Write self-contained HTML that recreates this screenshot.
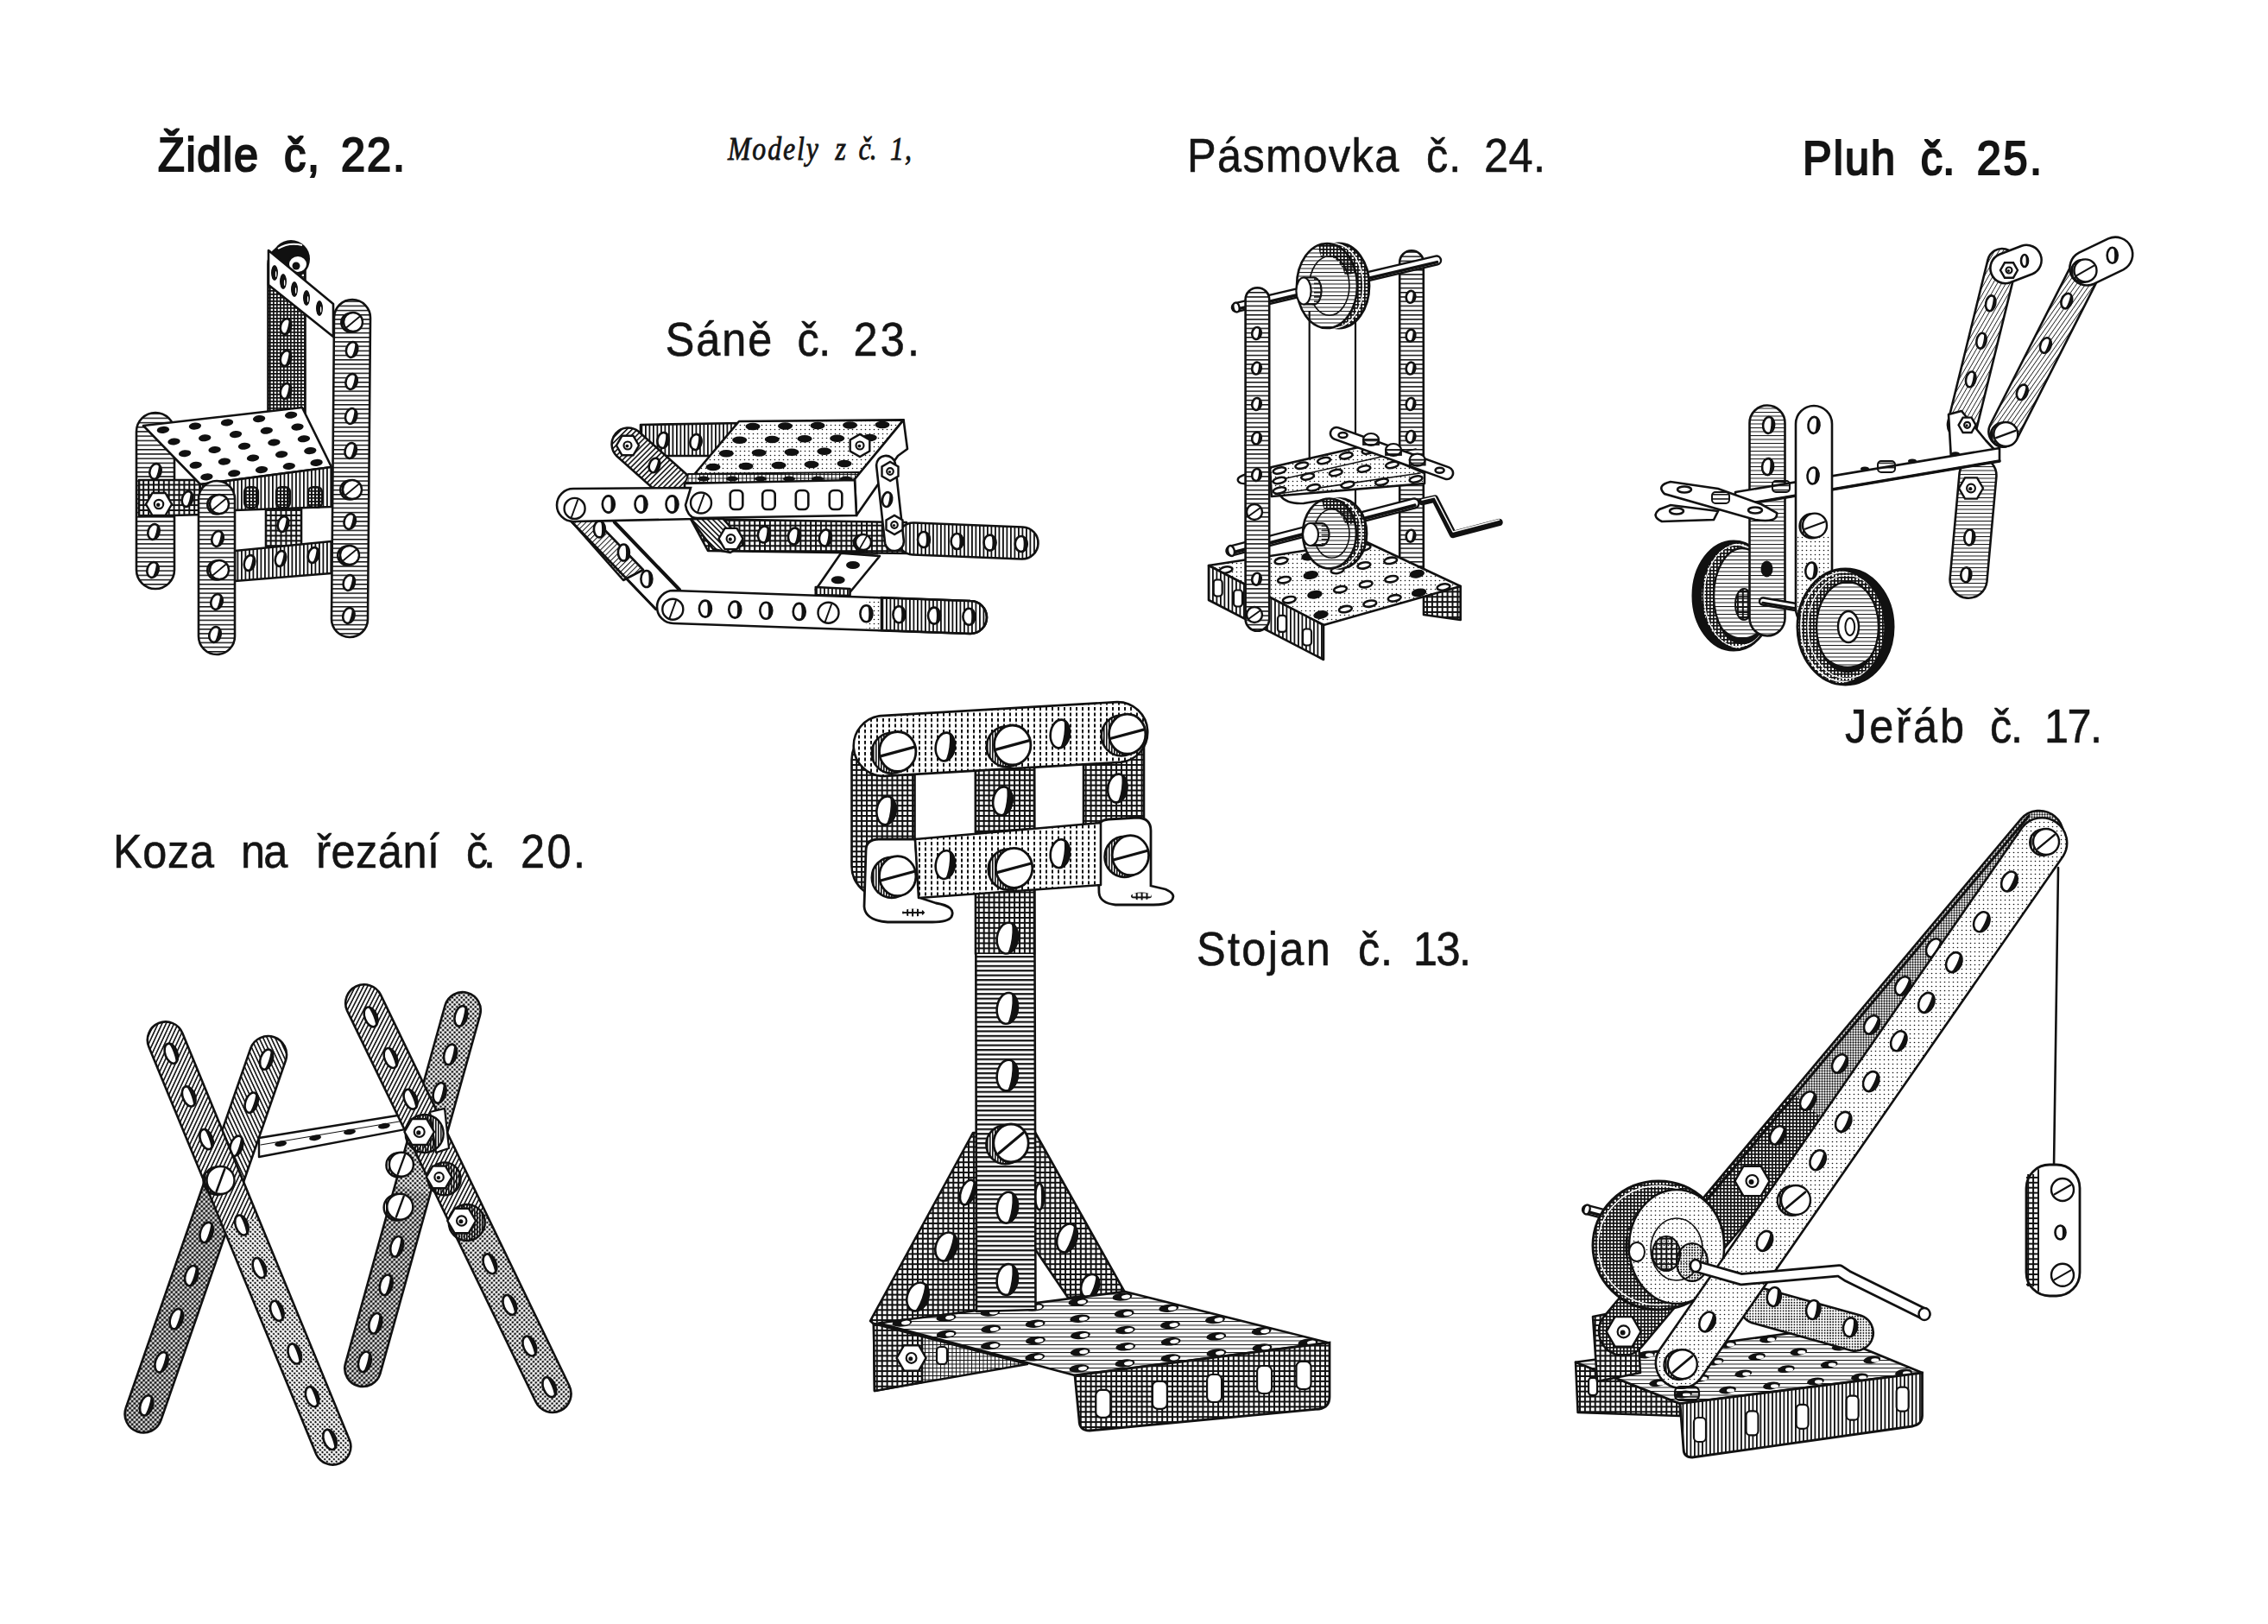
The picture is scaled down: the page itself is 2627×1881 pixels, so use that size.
<!DOCTYPE html><html><head><meta charset="utf-8"><style>html,body{margin:0;padding:0;background:#fff;overflow:hidden}svg{display:block}</style></head><body><svg xmlns="http://www.w3.org/2000/svg" width="2627" height="1881" viewBox="0 0 2627 1881"><defs>
<pattern id="H" width="8" height="5.2" patternUnits="userSpaceOnUse"><rect width="8" height="1.5" fill="#111"/></pattern>
<pattern id="HM" width="8" height="5.4" patternUnits="userSpaceOnUse"><rect width="8" height="2.2" fill="#111"/></pattern>
<pattern id="H2" width="8" height="4" patternUnits="userSpaceOnUse"><rect width="8" height="1.8" fill="#111"/></pattern>
<pattern id="HL" width="8" height="4.5" patternUnits="userSpaceOnUse"><rect width="8" height="1.0" fill="#111"/></pattern>
<pattern id="V" width="4.5" height="8" patternUnits="userSpaceOnUse"><rect width="1.8" height="8" fill="#111"/></pattern>
<pattern id="V2" width="3" height="8" patternUnits="userSpaceOnUse"><rect width="1.6" height="8" fill="#111"/></pattern>
<pattern id="VL" width="4.5" height="8" patternUnits="userSpaceOnUse"><rect width="1.1" height="8" fill="#111"/></pattern>
<pattern id="VD" width="7" height="6.5" patternUnits="userSpaceOnUse"><rect width="2" height="4" fill="#111"/></pattern>
<pattern id="X" width="5.9" height="5.9" patternUnits="userSpaceOnUse"><rect width="5.9" height="2" fill="#111"/><rect width="2" height="5.9" fill="#111"/></pattern>
<pattern id="XD" width="4" height="4" patternUnits="userSpaceOnUse"><rect width="4" height="1.7" fill="#111"/><rect width="1.7" height="4" fill="#111"/></pattern>
<pattern id="XL" width="4.5" height="4.5" patternUnits="userSpaceOnUse"><rect width="4.5" height="1.0" fill="#111"/><rect width="1.0" height="4.5" fill="#111"/></pattern>
<pattern id="D" width="3.2" height="3.2" patternUnits="userSpaceOnUse"><circle cx="1.6" cy="1.6" r="0.95" fill="#111"/></pattern>
<pattern id="DD" width="3" height="3" patternUnits="userSpaceOnUse"><circle cx="1.5" cy="1.5" r="1.15" fill="#111"/></pattern>
<pattern id="DL" width="5" height="5" patternUnits="userSpaceOnUse"><circle cx="2.5" cy="2.5" r="0.8" fill="#111"/></pattern>
<pattern id="G" width="4.3" height="4.3" patternUnits="userSpaceOnUse" patternTransform="rotate(45)"><rect width="4.3" height="1.6" fill="#111"/></pattern>
<pattern id="G2" width="4.3" height="4.3" patternUnits="userSpaceOnUse" patternTransform="rotate(-45)"><rect width="4.3" height="1.6" fill="#111"/></pattern>
<pattern id="GL" width="4.3" height="4.3" patternUnits="userSpaceOnUse" patternTransform="rotate(45)"><rect width="4.3" height="1.0" fill="#111"/></pattern>
<pattern id="GL2" width="4.3" height="4.3" patternUnits="userSpaceOnUse" patternTransform="rotate(-45)"><rect width="4.3" height="1.0" fill="#111"/></pattern>
<pattern id="p1" width="8" height="4.3" patternUnits="userSpaceOnUse" patternTransform="rotate(-60)"><rect width="8" height="0.8" fill="#111"/></pattern><pattern id="p2" width="8" height="4.3" patternUnits="userSpaceOnUse" patternTransform="rotate(-55)"><rect width="8" height="0.8" fill="#111"/></pattern><clipPath id="cr1"><ellipse cx="2008" cy="690" rx="47" ry="63"/></clipPath><clipPath id="cr2"><ellipse cx="2137.5" cy="726" rx="55.5" ry="67"/></clipPath><pattern id="p3" width="8" height="4.2" patternUnits="userSpaceOnUse" patternTransform="rotate(65)"><rect width="8" height="1.6" fill="#111"/></pattern><pattern id="p4" width="3.8" height="3.8" patternUnits="userSpaceOnUse" patternTransform="rotate(45)"><circle cx="1.9" cy="1.9" r="1.6" fill="#111"/></pattern><clipPath id="c3"><path d="M290.4,1213.9 L145.8,1630.8 A21.5,21.5 0 0 0 186.5,1644.9 L331,1228 A21.5,21.5 0 0 0 290.4,1213.9 Z"/></clipPath><pattern id="p5" width="8" height="4.2" patternUnits="userSpaceOnUse" patternTransform="rotate(115)"><rect width="8" height="1.6" fill="#111"/></pattern><pattern id="p6" width="3.8" height="3.8" patternUnits="userSpaceOnUse" patternTransform="rotate(45)"><circle cx="1.9" cy="1.9" r="1.3" fill="#111"/></pattern><clipPath id="c4"><path d="M172.4,1212.5 L366.4,1684.6 A21,21 0 0 0 405.2,1668.7 L211.3,1196.5 A21,21 0 0 0 172.4,1212.5 Z"/></clipPath><pattern id="p7" width="3.8" height="3.8" patternUnits="userSpaceOnUse" patternTransform="rotate(45)"><circle cx="1.9" cy="1.9" r="1.45" fill="#111"/></pattern><pattern id="p8" width="3.8" height="3.8" patternUnits="userSpaceOnUse" patternTransform="rotate(45)"><circle cx="1.9" cy="1.9" r="1.55" fill="#111"/></pattern><clipPath id="c5"><path d="M515.5,1164.5 L399.8,1580.3 A21,21 0 0 0 440.2,1591.6 L556,1175.8 A21,21 0 0 0 515.5,1164.5 Z"/></clipPath><pattern id="p9" width="8" height="4.2" patternUnits="userSpaceOnUse" patternTransform="rotate(117)"><rect width="8" height="1.6" fill="#111"/></pattern><pattern id="p10" width="3.8" height="3.8" patternUnits="userSpaceOnUse" patternTransform="rotate(45)"><circle cx="1.9" cy="1.9" r="1.35" fill="#111"/></pattern><clipPath id="c6"><path d="M402.1,1170.6 L620.6,1623.7 A21.5,21.5 0 0 0 659.4,1605 L440.8,1151.9 A21.5,21.5 0 0 0 402.1,1170.6 Z"/></clipPath><clipPath id="c7"><path d="M2340.5,949 L1858.5,1524 A28,28 0 0 0 1901.5,1560 L2383.5,985 A28,28 0 0 0 2340.5,949 Z"/></clipPath></defs><rect width="100%" height="100%" fill="#fff"/><path d="M310.5,306 L310.5,480 A21.5,21.5 0 0 0 353.5,480 L353.5,306 A21.5,21.5 0 0 0 310.5,306 Z" fill="#fff"/>
<path d="M310.5,306 L310.5,480 A21.5,21.5 0 0 0 353.5,480 L353.5,306 A21.5,21.5 0 0 0 310.5,306 Z" fill="url(#XD)" stroke="#111" stroke-width="2.6" stroke-linejoin="round"/>
<circle cx="337" cy="300" r="22" fill="#111"/>
<ellipse cx="345" cy="306" rx="11" ry="10" fill="#fff" stroke="#111" stroke-width="2"/>
<circle cx="343" cy="308" r="4.5" fill="#111"/>
<path d="M322,288 Q335,280 350,284" stroke="#fff" stroke-width="2" fill="none"/>
<ellipse cx="331" cy="378" rx="6" ry="9" fill="#fff" stroke="#111" stroke-width="2.6" transform="rotate(15 331 378)"/>
<path d="M331.6,369 A6,9 0 0 1 331.6,387 A1.9,9 0 0 0 331.6,369 Z" fill="#111" transform="rotate(15 331 378)"/>
<ellipse cx="331" cy="415" rx="6" ry="9" fill="#fff" stroke="#111" stroke-width="2.6" transform="rotate(15 331 415)"/>
<path d="M331.6,406 A6,9 0 0 1 331.6,424 A1.9,9 0 0 0 331.6,406 Z" fill="#111" transform="rotate(15 331 415)"/>
<ellipse cx="331" cy="453" rx="6" ry="9" fill="#fff" stroke="#111" stroke-width="2.6" transform="rotate(15 331 453)"/>
<path d="M331.6,444 A6,9 0 0 1 331.6,462 A1.9,9 0 0 0 331.6,444 Z" fill="#111" transform="rotate(15 331 453)"/>
<path d="M311,290 L386,352 L386,390 L311,330 Z" fill="#fff" stroke="#111" stroke-width="2.6" stroke-linejoin="round"/>
<ellipse cx="318" cy="316" rx="4" ry="9" fill="#111"/>
<ellipse cx="319.6" cy="317.5" rx="0.7" ry="3.5" fill="#fff"/>
<ellipse cx="328" cy="326" rx="4" ry="9" fill="#111"/>
<ellipse cx="329.6" cy="327.5" rx="0.7" ry="3.5" fill="#fff"/>
<ellipse cx="341" cy="335" rx="4" ry="9" fill="#111"/>
<ellipse cx="342.6" cy="336.5" rx="0.7" ry="3.5" fill="#fff"/>
<ellipse cx="355" cy="345" rx="4" ry="9" fill="#111"/>
<ellipse cx="356.6" cy="346.5" rx="0.7" ry="3.5" fill="#fff"/>
<ellipse cx="370" cy="357" rx="4" ry="9" fill="#111"/>
<ellipse cx="371.6" cy="358.5" rx="0.7" ry="3.5" fill="#fff"/>
<path d="M158,500 L158,660 A22,22 0 0 0 202,660 L202,500 A22,22 0 0 0 158,500 Z" fill="#fff"/>
<path d="M158,500 L158,660 A22,22 0 0 0 202,660 L202,500 A22,22 0 0 0 158,500 Z" fill="url(#H)" stroke="#111" stroke-width="2.6" stroke-linejoin="round"/>
<ellipse cx="180" cy="546" rx="6.5" ry="9" fill="#fff" stroke="#111" stroke-width="2.6" transform="rotate(15 180 546)"/>
<path d="M180.7,537 A6.5,9 0 0 1 180.7,555 A2.1,9 0 0 0 180.7,537 Z" fill="#111" transform="rotate(15 180 546)"/>
<ellipse cx="178" cy="616" rx="6.5" ry="9" fill="#fff" stroke="#111" stroke-width="2.6" transform="rotate(15 178 616)"/>
<path d="M178.7,607 A6.5,9 0 0 1 178.7,625 A2.1,9 0 0 0 178.7,607 Z" fill="#111" transform="rotate(15 178 616)"/>
<ellipse cx="177" cy="660" rx="6.5" ry="9" fill="#fff" stroke="#111" stroke-width="2.6" transform="rotate(15 177 660)"/>
<path d="M177.7,651 A6.5,9 0 0 1 177.7,669 A2.1,9 0 0 0 177.7,651 Z" fill="#111" transform="rotate(15 177 660)"/>
<path d="M161,556 L238,556 L238,596 L161,598 Z" fill="#fff"/>
<path d="M161,556 L238,556 L238,596 L161,598 Z" fill="url(#X)" stroke="#111" stroke-width="2.6" stroke-linejoin="round"/>
<ellipse cx="217" cy="578" rx="6" ry="9" fill="#fff" stroke="#111" stroke-width="2.6" transform="rotate(15 217 578)"/>
<path d="M217.6,569 A6,9 0 0 1 217.6,587 A1.9,9 0 0 0 217.6,569 Z" fill="#111" transform="rotate(15 217 578)"/>
<polygon points="199,584 191.5,597 176.5,597 169,584 176.5,571 191.5,571" fill="#fff" stroke="#111" stroke-width="2.4"/>
<circle cx="184" cy="584" r="5.2" fill="#fff" stroke="#111" stroke-width="2.16"/>
<circle cx="183.2" cy="584.8" r="2.2" fill="#111"/>
<path d="M166,493 L350,472 L384,541 L232,561 Z" fill="#fff" stroke="#111" stroke-width="2.6" stroke-linejoin="round"/>
<ellipse cx="188.9" cy="497.9" rx="7.2" ry="4" fill="#111" transform="rotate(-6 188.9 497.9)"/>
<ellipse cx="201.5" cy="511.5" rx="7.2" ry="4" fill="#111" transform="rotate(-6 201.5 511.5)"/>
<ellipse cx="214.1" cy="525.2" rx="7.2" ry="4" fill="#111" transform="rotate(-6 214.1 525.2)"/>
<ellipse cx="226.7" cy="538.8" rx="7.2" ry="4" fill="#111" transform="rotate(-6 226.7 538.8)"/>
<ellipse cx="239.4" cy="552.4" rx="7.2" ry="4" fill="#111" transform="rotate(-6 239.4 552.4)"/>
<ellipse cx="225.9" cy="493.6" rx="7.2" ry="4" fill="#111" transform="rotate(-6 225.9 493.6)"/>
<ellipse cx="237.2" cy="507.3" rx="7.2" ry="4" fill="#111" transform="rotate(-6 237.2 507.3)"/>
<ellipse cx="248.6" cy="521.0" rx="7.2" ry="4" fill="#111" transform="rotate(-6 248.6 521.0)"/>
<ellipse cx="259.9" cy="534.6" rx="7.2" ry="4" fill="#111" transform="rotate(-6 259.9 534.6)"/>
<ellipse cx="271.2" cy="548.3" rx="7.2" ry="4" fill="#111" transform="rotate(-6 271.2 548.3)"/>
<ellipse cx="263.0" cy="489.4" rx="7.2" ry="4" fill="#111" transform="rotate(-6 263.0 489.4)"/>
<ellipse cx="273.0" cy="503.1" rx="7.2" ry="4" fill="#111" transform="rotate(-6 273.0 503.1)"/>
<ellipse cx="283.0" cy="516.8" rx="7.2" ry="4" fill="#111" transform="rotate(-6 283.0 516.8)"/>
<ellipse cx="293.0" cy="530.5" rx="7.2" ry="4" fill="#111" transform="rotate(-6 293.0 530.5)"/>
<ellipse cx="303.0" cy="544.1" rx="7.2" ry="4" fill="#111" transform="rotate(-6 303.0 544.1)"/>
<ellipse cx="300.1" cy="485.1" rx="7.2" ry="4" fill="#111" transform="rotate(-6 300.1 485.1)"/>
<ellipse cx="308.8" cy="498.8" rx="7.2" ry="4" fill="#111" transform="rotate(-6 308.8 498.8)"/>
<ellipse cx="317.4" cy="512.5" rx="7.2" ry="4" fill="#111" transform="rotate(-6 317.4 512.5)"/>
<ellipse cx="326.1" cy="526.3" rx="7.2" ry="4" fill="#111" transform="rotate(-6 326.1 526.3)"/>
<ellipse cx="334.8" cy="540.0" rx="7.2" ry="4" fill="#111" transform="rotate(-6 334.8 540.0)"/>
<ellipse cx="337.1" cy="480.8" rx="7.2" ry="4" fill="#111" transform="rotate(-6 337.1 480.8)"/>
<ellipse cx="344.5" cy="494.6" rx="7.2" ry="4" fill="#111" transform="rotate(-6 344.5 494.6)"/>
<ellipse cx="351.9" cy="508.3" rx="7.2" ry="4" fill="#111" transform="rotate(-6 351.9 508.3)"/>
<ellipse cx="359.3" cy="522.1" rx="7.2" ry="4" fill="#111" transform="rotate(-6 359.3 522.1)"/>
<ellipse cx="366.6" cy="535.9" rx="7.2" ry="4" fill="#111" transform="rotate(-6 366.6 535.9)"/>
<path d="M232,561 L384,541 L384,587 L272,591 L232,592 Z" fill="#fff"/>
<path d="M232,561 L384,541 L384,587 L272,591 L232,592 Z" fill="url(#V)" stroke="#111" stroke-width="2.6" stroke-linejoin="round"/>
<rect x="283" y="564" width="16" height="24" rx="5.6" fill="url(#XD)" stroke="#111" stroke-width="2.2"/>
<rect x="320" y="564" width="16" height="24" rx="5.6" fill="url(#XD)" stroke="#111" stroke-width="2.2"/>
<rect x="357" y="564" width="16" height="24" rx="5.6" fill="url(#XD)" stroke="#111" stroke-width="2.2"/>
<path d="M308,590 L349,589 L349,632 L308,633 Z" fill="#fff"/>
<path d="M308,590 L349,589 L349,632 L308,633 Z" fill="url(#X)" stroke="#111" stroke-width="2.6" stroke-linejoin="round"/>
<ellipse cx="328" cy="607" rx="6" ry="9" fill="#fff" stroke="#111" stroke-width="2.6" transform="rotate(15 328 607)"/>
<path d="M328.6,598 A6,9 0 0 1 328.6,616 A1.9,9 0 0 0 328.6,598 Z" fill="#111" transform="rotate(15 328 607)"/>
<path d="M272,638 L384,627 L384,664 L272,673 Z" fill="#fff"/>
<path d="M272,638 L384,627 L384,664 L272,673 Z" fill="url(#V)" stroke="#111" stroke-width="2.6" stroke-linejoin="round"/>
<ellipse cx="289" cy="652" rx="6" ry="9" fill="#fff" stroke="#111" stroke-width="2.6" transform="rotate(15 289 652)"/>
<path d="M289.6,643 A6,9 0 0 1 289.6,661 A1.9,9 0 0 0 289.6,643 Z" fill="#111" transform="rotate(15 289 652)"/>
<ellipse cx="325" cy="647" rx="6" ry="9" fill="#fff" stroke="#111" stroke-width="2.6" transform="rotate(15 325 647)"/>
<path d="M325.6,638 A6,9 0 0 1 325.6,656 A1.9,9 0 0 0 325.6,638 Z" fill="#111" transform="rotate(15 325 647)"/>
<ellipse cx="363" cy="643" rx="6" ry="9" fill="#fff" stroke="#111" stroke-width="2.6" transform="rotate(15 363 643)"/>
<path d="M363.6,634 A6,9 0 0 1 363.6,652 A1.9,9 0 0 0 363.6,634 Z" fill="#111" transform="rotate(15 363 643)"/>
<path d="M230,578 L230,737 A21,21 0 0 0 272,737 L272,578 A21,21 0 0 0 230,578 Z" fill="#fff"/>
<path d="M230,578 L230,737 A21,21 0 0 0 272,737 L272,578 A21,21 0 0 0 230,578 Z" fill="url(#H)" stroke="#111" stroke-width="2.6" stroke-linejoin="round"/>
<circle cx="251.2" cy="584.5" r="11" fill="url(#V2)" stroke="#111" stroke-width="2.4"/>
<circle cx="254" cy="584" r="11" fill="#fff" stroke="#111" stroke-width="2.4"/>
<line x1="246.8" y1="590" x2="261.2" y2="578" stroke="#111" stroke-width="1.8" stroke-linecap="round"/>
<circle cx="251.2" cy="660.5" r="11" fill="url(#V2)" stroke="#111" stroke-width="2.4"/>
<circle cx="254" cy="660" r="11" fill="#fff" stroke="#111" stroke-width="2.4"/>
<line x1="246.8" y1="666" x2="261.2" y2="654" stroke="#111" stroke-width="1.8" stroke-linecap="round"/>
<ellipse cx="252" cy="624" rx="6.5" ry="9" fill="#fff" stroke="#111" stroke-width="2.6" transform="rotate(15 252 624)"/>
<path d="M252.7,615 A6.5,9 0 0 1 252.7,633 A2.1,9 0 0 0 252.7,615 Z" fill="#111" transform="rotate(15 252 624)"/>
<ellipse cx="251" cy="697" rx="6.5" ry="9" fill="#fff" stroke="#111" stroke-width="2.6" transform="rotate(15 251 697)"/>
<path d="M251.7,688 A6.5,9 0 0 1 251.7,706 A2.1,9 0 0 0 251.7,688 Z" fill="#111" transform="rotate(15 251 697)"/>
<ellipse cx="249" cy="735" rx="6.5" ry="9" fill="#fff" stroke="#111" stroke-width="2.6" transform="rotate(15 249 735)"/>
<path d="M249.7,726 A6.5,9 0 0 1 249.7,744 A2.1,9 0 0 0 249.7,726 Z" fill="#111" transform="rotate(15 249 735)"/>
<path d="M387,367.8 L384,716.8 A21,21 0 0 0 426,717.2 L429,368.2 A21,21 0 0 0 387,367.8 Z" fill="#fff"/>
<path d="M387,367.8 L384,716.8 A21,21 0 0 0 426,717.2 L429,368.2 A21,21 0 0 0 387,367.8 Z" fill="url(#H)" stroke="#111" stroke-width="2.6" stroke-linejoin="round"/>
<circle cx="406.2" cy="373.6" r="11" fill="url(#V2)" stroke="#111" stroke-width="2.4"/>
<circle cx="409" cy="373" r="11" fill="#fff" stroke="#111" stroke-width="2.4"/>
<line x1="401.8" y1="379" x2="416.2" y2="367" stroke="#111" stroke-width="1.8" stroke-linecap="round"/>
<circle cx="405.2" cy="567.5" r="11" fill="url(#V2)" stroke="#111" stroke-width="2.4"/>
<circle cx="408" cy="567" r="11" fill="#fff" stroke="#111" stroke-width="2.4"/>
<line x1="400.8" y1="573" x2="415.2" y2="561" stroke="#111" stroke-width="1.8" stroke-linecap="round"/>
<circle cx="402.2" cy="643.5" r="11" fill="url(#V2)" stroke="#111" stroke-width="2.4"/>
<circle cx="405" cy="643" r="11" fill="#fff" stroke="#111" stroke-width="2.4"/>
<line x1="397.8" y1="649" x2="412.2" y2="637" stroke="#111" stroke-width="1.8" stroke-linecap="round"/>
<ellipse cx="407.6" cy="405" rx="6.5" ry="9" fill="#fff" stroke="#111" stroke-width="2.6" transform="rotate(15 407.6 405)"/>
<path d="M408.2,396 A6.5,9 0 0 1 408.2,414 A2.1,9 0 0 0 408.2,396 Z" fill="#111" transform="rotate(15 407.6 405)"/>
<ellipse cx="407.1" cy="442" rx="6.5" ry="9" fill="#fff" stroke="#111" stroke-width="2.6" transform="rotate(15 407.1 442)"/>
<path d="M407.8,433 A6.5,9 0 0 1 407.8,451 A2.1,9 0 0 0 407.8,433 Z" fill="#111" transform="rotate(15 407.1 442)"/>
<ellipse cx="406.7" cy="482" rx="6.5" ry="9" fill="#fff" stroke="#111" stroke-width="2.6" transform="rotate(15 406.7 482)"/>
<path d="M407.3,473 A6.5,9 0 0 1 407.3,491 A2.1,9 0 0 0 407.3,473 Z" fill="#111" transform="rotate(15 406.7 482)"/>
<ellipse cx="406.2" cy="522" rx="6.5" ry="9" fill="#fff" stroke="#111" stroke-width="2.6" transform="rotate(15 406.2 522)"/>
<path d="M406.8,513 A6.5,9 0 0 1 406.8,531 A2.1,9 0 0 0 406.8,513 Z" fill="#111" transform="rotate(15 406.2 522)"/>
<ellipse cx="405.2" cy="604" rx="6.5" ry="9" fill="#fff" stroke="#111" stroke-width="2.6" transform="rotate(15 405.2 604)"/>
<path d="M405.8,595 A6.5,9 0 0 1 405.8,613 A2.1,9 0 0 0 405.8,595 Z" fill="#111" transform="rotate(15 405.2 604)"/>
<ellipse cx="404.3" cy="675" rx="6.5" ry="9" fill="#fff" stroke="#111" stroke-width="2.6" transform="rotate(15 404.3 675)"/>
<path d="M405,666 A6.5,9 0 0 1 405,684 A2.1,9 0 0 0 405,666 Z" fill="#111" transform="rotate(15 404.3 675)"/>
<ellipse cx="403.9" cy="713" rx="6.5" ry="9" fill="#fff" stroke="#111" stroke-width="2.6" transform="rotate(15 403.9 713)"/>
<path d="M404.5,704 A6.5,9 0 0 1 404.5,722 A2.1,9 0 0 0 404.5,704 Z" fill="#111" transform="rotate(15 403.9 713)"/>
<path d="M742,492 L860,490 L830,528 L742,528 Z" fill="#fff"/>
<path d="M742,492 L860,490 L830,528 L742,528 Z" fill="url(#V)" stroke="#111" stroke-width="2.6" stroke-linejoin="round"/>
<ellipse cx="768" cy="510" rx="6.5" ry="9" fill="#fff" stroke="#111" stroke-width="2.6" transform="rotate(10 768 510)"/>
<path d="M768.6,501 A6.5,9 0 0 1 768.6,519 A2.1,9 0 0 0 768.6,501 Z" fill="#111" transform="rotate(10 768 510)"/>
<ellipse cx="806" cy="512" rx="6.5" ry="9" fill="#fff" stroke="#111" stroke-width="2.6" transform="rotate(10 806 512)"/>
<path d="M806.6,503 A6.5,9 0 0 1 806.6,521 A2.1,9 0 0 0 806.6,503 Z" fill="#111" transform="rotate(10 806 512)"/>
<path d="M714.4,528.2 L779.4,586.2 A19,19 0 0 0 804.6,557.8 L739.6,499.8 A19,19 0 0 0 714.4,528.2 Z" fill="#fff"/>
<path d="M714.4,528.2 L779.4,586.2 A19,19 0 0 0 804.6,557.8 L739.6,499.8 A19,19 0 0 0 714.4,528.2 Z" fill="url(#G2)" stroke="#111" stroke-width="2.6" stroke-linejoin="round"/>
<polygon points="740,516 733.5,527.3 720.5,527.3 714,516 720.5,504.7 733.5,504.7" fill="#fff" stroke="#111" stroke-width="2.4"/>
<circle cx="727" cy="516" r="4.5" fill="#fff" stroke="#111" stroke-width="2.16"/>
<circle cx="726.4" cy="516.6" r="1.9" fill="#111"/>
<ellipse cx="758" cy="539" rx="6" ry="8.5" fill="#fff" stroke="#111" stroke-width="2.6" transform="rotate(20 758 539)"/>
<path d="M758.6,530.5 A6,8.5 0 0 1 758.6,547.5 A1.9,8.5 0 0 0 758.6,530.5 Z" fill="#111" transform="rotate(20 758 539)"/>
<path d="M800,601 L1050,605 L1050,641 L820,638 Z" fill="#fff"/>
<path d="M800,601 L1050,605 L1050,641 L820,638 Z" fill="url(#X)" stroke="#111" stroke-width="2.6" stroke-linejoin="round"/>
<path d="M1057.3,642.5 L1183.3,647.5 A18.5,18.5 0 0 0 1184.7,610.5 L1058.7,605.5 A18.5,18.5 0 0 0 1057.3,642.5 Z" fill="#fff"/>
<path d="M1057.3,642.5 L1183.3,647.5 A18.5,18.5 0 0 0 1184.7,610.5 L1058.7,605.5 A18.5,18.5 0 0 0 1057.3,642.5 Z" fill="url(#V)" stroke="#111" stroke-width="2.6" stroke-linejoin="round"/>
<ellipse cx="1070" cy="625" rx="7" ry="9" fill="#fff" stroke="#111" stroke-width="2.6"/>
<path d="M1070.7,616 A7,9 0 0 1 1070.7,634 A2.2,9 0 0 0 1070.7,616 Z" fill="#111"/>
<ellipse cx="1108.6" cy="627" rx="7" ry="9" fill="#fff" stroke="#111" stroke-width="2.6"/>
<path d="M1109.3,618 A7,9 0 0 1 1109.3,636 A2.2,9 0 0 0 1109.3,618 Z" fill="#111"/>
<ellipse cx="1146.6" cy="628.6" rx="7" ry="9" fill="#fff" stroke="#111" stroke-width="2.6"/>
<path d="M1147.3,619.6 A7,9 0 0 1 1147.3,637.6 A2.2,9 0 0 0 1147.3,619.6 Z" fill="#111"/>
<ellipse cx="1182.8" cy="630" rx="7" ry="9" fill="#fff" stroke="#111" stroke-width="2.6"/>
<path d="M1183.5,621 A7,9 0 0 1 1183.5,639 A2.2,9 0 0 0 1183.5,621 Z" fill="#111"/>
<path d="M800,601 L838,601 L862,630 L846,640 L826,636 Z" fill="#fff"/>
<path d="M800,601 L838,601 L862,630 L846,640 L826,636 Z" fill="url(#G)" stroke="#111" stroke-width="2.6" stroke-linejoin="round"/>
<polygon points="860.5,624 853.5,636.1 839.5,636.1 832.5,624 839.5,611.9 853.5,611.9" fill="#fff" stroke="#111" stroke-width="2.4"/>
<circle cx="846.5" cy="624" r="4.9" fill="#fff" stroke="#111" stroke-width="2.16"/>
<circle cx="845.8" cy="624.7" r="2.1" fill="#111"/>
<ellipse cx="885" cy="619" rx="7" ry="9.5" fill="#fff" stroke="#111" stroke-width="2.6" transform="rotate(10 885 619)"/>
<path d="M885.7,609.5 A7,9.5 0 0 1 885.7,628.5 A2.2,9.5 0 0 0 885.7,609.5 Z" fill="#111" transform="rotate(10 885 619)"/>
<ellipse cx="920" cy="621" rx="7" ry="9.5" fill="#fff" stroke="#111" stroke-width="2.6" transform="rotate(10 920 621)"/>
<path d="M920.7,611.5 A7,9.5 0 0 1 920.7,630.5 A2.2,9.5 0 0 0 920.7,611.5 Z" fill="#111" transform="rotate(10 920 621)"/>
<ellipse cx="956" cy="623" rx="7" ry="9.5" fill="#fff" stroke="#111" stroke-width="2.6" transform="rotate(10 956 623)"/>
<path d="M956.7,613.5 A7,9.5 0 0 1 956.7,632.5 A2.2,9.5 0 0 0 956.7,613.5 Z" fill="#111" transform="rotate(10 956 623)"/>
<path d="M661,603 L710,603 L787,683 L760,706 Z" fill="#fff" stroke="#111" stroke-width="2.6" stroke-linejoin="round"/>
<path d="M661,603 L690,603 L745,660 L722,672 Z" fill="#fff"/>
<path d="M661,603 L690,603 L745,660 L722,672 Z" fill="url(#GL2)" stroke="#111" stroke-width="2.6" stroke-linejoin="round"/>
<path d="M661,603 L760,706" stroke="#111" stroke-width="2.6"/>
<line x1="712" y1="605" x2="787" y2="683" stroke="#111" stroke-width="4" stroke-linecap="round"/>
<ellipse cx="694.4" cy="612.9" rx="6.5" ry="9.5" fill="#fff" stroke="#111" stroke-width="2.6"/>
<path d="M695,603.4 A6.5,9.5 0 0 1 695,622.4 A2.1,9.5 0 0 0 695,603.4 Z" fill="#111"/>
<ellipse cx="722.4" cy="640" rx="6.5" ry="9.5" fill="#fff" stroke="#111" stroke-width="2.6"/>
<path d="M723,630.5 A6.5,9.5 0 0 1 723,649.5 A2.1,9.5 0 0 0 723,630.5 Z" fill="#111"/>
<ellipse cx="748.9" cy="670.5" rx="6.5" ry="9.5" fill="#fff" stroke="#111" stroke-width="2.6"/>
<path d="M749.5,661 A6.5,9.5 0 0 1 749.5,680 A2.1,9.5 0 0 0 749.5,661 Z" fill="#111"/>
<path d="M856,488 L1046.6,486.4 L990,555 L797,558 Z" fill="#fff"/>
<path d="M856,488 L1046.6,486.4 L990,555 L797,558 Z" fill="url(#DL)" stroke="#111" stroke-width="2.6" stroke-linejoin="round"/>
<ellipse cx="872" cy="494" rx="8.5" ry="4.2" fill="#111"/>
<ellipse cx="909.5" cy="493.5" rx="8.5" ry="4.2" fill="#111"/>
<ellipse cx="947" cy="493" rx="8.5" ry="4.2" fill="#111"/>
<ellipse cx="984.5" cy="492.5" rx="8.5" ry="4.2" fill="#111"/>
<ellipse cx="1022" cy="492" rx="8.5" ry="4.2" fill="#111"/>
<ellipse cx="856.7" cy="509.7" rx="8.5" ry="4.2" fill="#111"/>
<ellipse cx="894.3" cy="509" rx="8.5" ry="4.2" fill="#111"/>
<ellipse cx="932" cy="508.3" rx="8.5" ry="4.2" fill="#111"/>
<ellipse cx="969.7" cy="507.7" rx="8.5" ry="4.2" fill="#111"/>
<ellipse cx="1007.3" cy="507" rx="8.5" ry="4.2" fill="#111"/>
<ellipse cx="841.3" cy="525.3" rx="8.5" ry="4.2" fill="#111"/>
<ellipse cx="879.2" cy="524.5" rx="8.5" ry="4.2" fill="#111"/>
<ellipse cx="917" cy="523.7" rx="8.5" ry="4.2" fill="#111"/>
<ellipse cx="954.8" cy="522.8" rx="8.5" ry="4.2" fill="#111"/>
<ellipse cx="992.7" cy="522" rx="8.5" ry="4.2" fill="#111"/>
<ellipse cx="826" cy="541" rx="8.5" ry="4.2" fill="#111"/>
<ellipse cx="864" cy="540" rx="8.5" ry="4.2" fill="#111"/>
<ellipse cx="902" cy="539" rx="8.5" ry="4.2" fill="#111"/>
<ellipse cx="940" cy="538" rx="8.5" ry="4.2" fill="#111"/>
<ellipse cx="978" cy="537" rx="8.5" ry="4.2" fill="#111"/>
<path d="M797,549 L995,547 L990,560 L793,562 Z" fill="#fff"/>
<path d="M797,549 L995,547 L990,560 L793,562 Z" fill="url(#XL)" stroke="#111" stroke-width="1.8" stroke-linejoin="round"/>
<ellipse cx="815" cy="554.5" rx="7" ry="3" fill="#111"/>
<ellipse cx="848" cy="554.5" rx="7" ry="3" fill="#111"/>
<ellipse cx="881" cy="554.5" rx="7" ry="3" fill="#111"/>
<ellipse cx="914" cy="554.5" rx="7" ry="3" fill="#111"/>
<ellipse cx="947" cy="554.5" rx="7" ry="3" fill="#111"/>
<ellipse cx="980" cy="554.5" rx="7" ry="3" fill="#111"/>
<path d="M990,555 L1046.6,486.4 L1051,520 L1040,528 L992,597 Z" fill="#fff" stroke="#111" stroke-width="2.6" stroke-linejoin="round"/>
<polygon points="1007.3,522.5 996,529 984.7,522.5 984.7,509.5 996,503 1007.3,509.5" fill="#fff" stroke="#111" stroke-width="2.4"/>
<circle cx="996" cy="516" r="4.5" fill="#fff" stroke="#111" stroke-width="2.16"/>
<circle cx="995.4" cy="516.6" r="1.9" fill="#111"/>
<path d="M793,560 L990,556 L992,597 L808,600 Q794,600 793,585 Z" fill="#fff" stroke="#111" stroke-width="2.6"/>
<circle cx="812" cy="582.5" r="12" fill="#fff" stroke="#111" stroke-width="2.4"/>
<line x1="808.5" y1="592.1" x2="815.5" y2="572.9" stroke="#111" stroke-width="1.92" stroke-linecap="round"/>
<rect x="845.8" y="568" width="14.5" height="22" rx="5.1" fill="#fff" stroke="#111" stroke-width="2.6"/>
<rect x="883.2" y="568" width="14.5" height="22" rx="5.1" fill="#fff" stroke="#111" stroke-width="2.6"/>
<rect x="921.8" y="568" width="14.5" height="22" rx="5.1" fill="#fff" stroke="#111" stroke-width="2.6"/>
<rect x="960.8" y="568" width="14.5" height="22" rx="5.1" fill="#fff" stroke="#111" stroke-width="2.6"/>
<path d="M800,565 L664,566 A19,19 0 0 0 664,604 L806,601 Q796,598 794,585 Z" fill="#fff" stroke="#111" stroke-width="2.6"/>
<circle cx="665.6" cy="588.9" r="12" fill="#fff" stroke="#111" stroke-width="2.4"/>
<line x1="662.1" y1="598.5" x2="669.1" y2="579.3" stroke="#111" stroke-width="1.92" stroke-linecap="round"/>
<ellipse cx="704.8" cy="584" rx="7" ry="9.6" fill="#fff" stroke="#111" stroke-width="2.6"/>
<path d="M705.5,574.4 A7,9.6 0 0 1 705.5,593.6 A2.2,9.6 0 0 0 705.5,574.4 Z" fill="#111"/>
<ellipse cx="742.5" cy="584" rx="7" ry="9.6" fill="#fff" stroke="#111" stroke-width="2.6"/>
<path d="M743.2,574.4 A7,9.6 0 0 1 743.2,593.6 A2.2,9.6 0 0 0 743.2,574.4 Z" fill="#111"/>
<ellipse cx="778.5" cy="584" rx="7" ry="9.6" fill="#fff" stroke="#111" stroke-width="2.6"/>
<path d="M779.2,574.4 A7,9.6 0 0 1 779.2,593.6 A2.2,9.6 0 0 0 779.2,574.4 Z" fill="#111"/>
<path d="M1015.1,539.2 L1025.1,629.2 A11,11 0 0 0 1046.9,626.8 L1036.9,536.8 A11,11 0 0 0 1015.1,539.2 Z" fill="#fff" stroke="#111" stroke-width="2.6" stroke-linejoin="round"/>
<polygon points="1031,557 1021.5,551.5 1021.5,540.5 1031,535 1040.5,540.5 1040.5,551.5" fill="#fff" stroke="#111" stroke-width="2.4"/>
<circle cx="1031" cy="546" r="3.8" fill="#fff" stroke="#111" stroke-width="2.16"/>
<circle cx="1030.5" cy="546.5" r="1.6" fill="#111"/>
<polygon points="1036,619 1026.5,613.5 1026.5,602.5 1036,597 1045.5,602.5 1045.5,613.5" fill="#fff" stroke="#111" stroke-width="2.4"/>
<circle cx="1036" cy="608" r="3.8" fill="#fff" stroke="#111" stroke-width="2.16"/>
<circle cx="1035.5" cy="608.5" r="1.6" fill="#111"/>
<ellipse cx="1027.6" cy="578.6" rx="5.5" ry="8.5" fill="#fff" stroke="#111" stroke-width="2.6" transform="rotate(10 1027.6 578.6)"/>
<path d="M1028.1,570.1 A5.5,8.5 0 0 1 1028.1,587.1 A1.8,8.5 0 0 0 1028.1,570.1 Z" fill="#111" transform="rotate(10 1027.6 578.6)"/>
<path d="M974,640.7 L1019,644 L984.5,686 L944.8,683 Z" fill="#fff" stroke="#111" stroke-width="2.6" stroke-linejoin="round"/>
<ellipse cx="988" cy="654.5" rx="8" ry="4.5" fill="#111"/>
<ellipse cx="970.7" cy="671.7" rx="8" ry="4.5" fill="#111"/>
<path d="M944.8,680 L984.5,682 L984.5,690 L944.8,689 Z" fill="#fff"/>
<path d="M944.8,680 L984.5,682 L984.5,690 L944.8,689 Z" fill="url(#V)" stroke="#111" stroke-width="2.6" stroke-linejoin="round"/>
<circle cx="997.8" cy="628.5" r="9" fill="url(#V2)" stroke="#111" stroke-width="2.4"/>
<circle cx="1000" cy="628" r="9" fill="#fff" stroke="#111" stroke-width="2.4"/>
<line x1="996.2" y1="634.6" x2="1003.8" y2="621.4" stroke="#111" stroke-width="1.8" stroke-linecap="round"/>
<path d="M780,684 L1124,696 A19,19 0 0 1 1124,734 L780,722 A19,19 0 0 1 780,684 Z" fill="#fff" stroke="#111" stroke-width="2.6"/>
<path d="M1021,692 L1124,696 A19,19 0 0 1 1124,734 L1021,730 Z" fill="url(#V)" stroke="#111" stroke-width="2.6"/>
<path d="M1003,691 L1021,692 L1021,730 L1003,729 Z" fill="url(#DL)"/>
<circle cx="779.3" cy="705.7" r="12" fill="#fff" stroke="#111" stroke-width="2.4"/>
<line x1="775.8" y1="715.3" x2="782.8" y2="696.1" stroke="#111" stroke-width="1.92" stroke-linecap="round"/>
<circle cx="959.5" cy="709.7" r="12" fill="#fff" stroke="#111" stroke-width="2.4"/>
<line x1="956" y1="719.3" x2="963" y2="700.1" stroke="#111" stroke-width="1.92" stroke-linecap="round"/>
<ellipse cx="816.9" cy="705.1" rx="7" ry="9.5" fill="#fff" stroke="#111" stroke-width="2.6"/>
<path d="M817.6,695.6 A7,9.5 0 0 1 817.6,714.6 A2.2,9.5 0 0 0 817.6,695.6 Z" fill="#111"/>
<ellipse cx="851.3" cy="706.1" rx="7" ry="9.5" fill="#fff" stroke="#111" stroke-width="2.6"/>
<path d="M852,696.6 A7,9.5 0 0 1 852,715.6 A2.2,9.5 0 0 0 852,696.6 Z" fill="#111"/>
<ellipse cx="887.3" cy="707.2" rx="7" ry="9.5" fill="#fff" stroke="#111" stroke-width="2.6"/>
<path d="M888,697.7 A7,9.5 0 0 1 888,716.7 A2.2,9.5 0 0 0 888,697.7 Z" fill="#111"/>
<ellipse cx="925.7" cy="708.4" rx="7" ry="9.5" fill="#fff" stroke="#111" stroke-width="2.6"/>
<path d="M926.4,698.9 A7,9.5 0 0 1 926.4,717.9 A2.2,9.5 0 0 0 926.4,698.9 Z" fill="#111"/>
<ellipse cx="1003.4" cy="710.7" rx="7" ry="9.5" fill="#fff" stroke="#111" stroke-width="2.6"/>
<path d="M1004.1,701.2 A7,9.5 0 0 1 1004.1,720.2 A2.2,9.5 0 0 0 1004.1,701.2 Z" fill="#111"/>
<ellipse cx="1041.4" cy="711.8" rx="7" ry="9.5" fill="#fff" stroke="#111" stroke-width="2.6"/>
<path d="M1042.1,702.3 A7,9.5 0 0 1 1042.1,721.3 A2.2,9.5 0 0 0 1042.1,702.3 Z" fill="#111"/>
<ellipse cx="1082" cy="713.1" rx="7" ry="9.5" fill="#fff" stroke="#111" stroke-width="2.6"/>
<path d="M1082.7,703.6 A7,9.5 0 0 1 1082.7,722.6 A2.2,9.5 0 0 0 1082.7,703.6 Z" fill="#111"/>
<ellipse cx="1122.4" cy="714.3" rx="7" ry="9.5" fill="#fff" stroke="#111" stroke-width="2.6"/>
<path d="M1123.1,704.8 A7,9.5 0 0 1 1123.1,723.8 A2.2,9.5 0 0 0 1123.1,704.8 Z" fill="#111"/>
<path d="M1621.2,304 L1621.2,660 A13.8,13.8 0 0 0 1648.8,660 L1648.8,304 A13.8,13.8 0 0 0 1621.2,304 Z" fill="#fff"/>
<path d="M1621.2,304 L1621.2,660 A13.8,13.8 0 0 0 1648.8,660 L1648.8,304 A13.8,13.8 0 0 0 1621.2,304 Z" fill="url(#H)" stroke="#111" stroke-width="2.6" stroke-linejoin="round"/>
<ellipse cx="1634" cy="343.8" rx="5.2" ry="7" fill="#fff" stroke="#111" stroke-width="2.6" transform="rotate(10 1634 343.8)"/>
<path d="M1634.5,336.8 A5.2,7 0 0 1 1634.5,350.8 A1.7,7 0 0 0 1634.5,336.8 Z" fill="#111" transform="rotate(10 1634 343.8)"/>
<ellipse cx="1634" cy="388.6" rx="5.2" ry="7" fill="#fff" stroke="#111" stroke-width="2.6" transform="rotate(10 1634 388.6)"/>
<path d="M1634.5,381.6 A5.2,7 0 0 1 1634.5,395.6 A1.7,7 0 0 0 1634.5,381.6 Z" fill="#111" transform="rotate(10 1634 388.6)"/>
<ellipse cx="1634" cy="426.6" rx="5.2" ry="7" fill="#fff" stroke="#111" stroke-width="2.6" transform="rotate(10 1634 426.6)"/>
<path d="M1634.5,419.6 A5.2,7 0 0 1 1634.5,433.6 A1.7,7 0 0 0 1634.5,419.6 Z" fill="#111" transform="rotate(10 1634 426.6)"/>
<ellipse cx="1634" cy="468" rx="5.2" ry="7" fill="#fff" stroke="#111" stroke-width="2.6" transform="rotate(10 1634 468)"/>
<path d="M1634.5,461 A5.2,7 0 0 1 1634.5,475 A1.7,7 0 0 0 1634.5,461 Z" fill="#111" transform="rotate(10 1634 468)"/>
<ellipse cx="1634" cy="505.9" rx="5.2" ry="7" fill="#fff" stroke="#111" stroke-width="2.6" transform="rotate(10 1634 505.9)"/>
<path d="M1634.5,498.9 A5.2,7 0 0 1 1634.5,512.9 A1.7,7 0 0 0 1634.5,498.9 Z" fill="#111" transform="rotate(10 1634 505.9)"/>
<ellipse cx="1634" cy="620.7" rx="5.2" ry="7" fill="#fff" stroke="#111" stroke-width="2.6" transform="rotate(10 1634 620.7)"/>
<path d="M1634.5,613.7 A5.2,7 0 0 1 1634.5,627.7 A1.7,7 0 0 0 1634.5,613.7 Z" fill="#111" transform="rotate(10 1634 620.7)"/>
<line x1="1432" y1="356" x2="1664" y2="301.5" stroke="#111" stroke-width="12.4" stroke-linecap="round"/>
<line x1="1432" y1="356" x2="1664" y2="301.5" stroke="#fff" stroke-width="7.6" stroke-linecap="round"/>
<line x1="1432.5" y1="358.1" x2="1664.5" y2="303.6" stroke="#111" stroke-width="3.5" stroke-linecap="round"/>
<ellipse cx="1432.0" cy="356.0" rx="3.5" ry="5.5" fill="#fff" stroke="#111" stroke-width="2.4" transform="rotate(-13.2 1432.0 356.0)"/>
<ellipse cx="1551.0" cy="331.0" rx="35.0" ry="49.0" fill="#fff" stroke="#111" stroke-width="2.8"/>
<ellipse cx="1551.0" cy="331.0" rx="35.0" ry="49.0" fill="url(#XD)"/>
<rect x="1537.0" y="282.0" width="14.0" height="98.0" fill="url(#XD)"/>
<ellipse cx="1544.0" cy="331.0" rx="35.0" ry="49.0" fill="none" stroke="#fff" stroke-width="1.5"/>
<ellipse cx="1537.0" cy="331.0" rx="35.0" ry="49.0" fill="#fff" stroke="#111" stroke-width="2.6"/>
<ellipse cx="1537.0" cy="331.0" rx="35.0" ry="49.0" fill="url(#HL)"/>
<ellipse cx="1539.8" cy="331.0" rx="23.1" ry="34.3" fill="none" stroke="#111" stroke-width="1.6"/>
<path d="M1526.5,284.4 A35.0,49.0 0 0 1 1570.2,316.3 L1558.0,318.8 A23.1,34.3 0 0 0 1530.0,297.7 Z" fill="url(#XD)"/>
<ellipse cx="1522.0" cy="337.0" rx="8.6" ry="15.5" fill="url(#H)" stroke="#111" stroke-width="2.2"/>
<rect x="1510.0" y="321.5" width="12.0" height="31.0" fill="#fff"/>
<rect x="1510.0" y="321.5" width="12.0" height="31.0" fill="url(#HL)"/>
<line x1="1510" y1="321.5" x2="1522" y2="321.5" stroke="#111" stroke-width="2.2" stroke-linecap="round"/>
<line x1="1510" y1="352.5" x2="1522" y2="352.5" stroke="#111" stroke-width="2.2" stroke-linecap="round"/>
<ellipse cx="1510.0" cy="337.0" rx="8.6" ry="15.5" fill="#fff" stroke="#111" stroke-width="2.2"/>
<line x1="1516.7" y1="361" x2="1516.7" y2="535" stroke="#111" stroke-width="2.2" stroke-linecap="round"/>
<line x1="1570" y1="371" x2="1570" y2="595" stroke="#111" stroke-width="2.2" stroke-linecap="round"/>
<path d="M1445,549 Q1432,552 1434,557 Q1436,561 1445,560 Z" fill="#fff" stroke="#111" stroke-width="2.4"/>
<path d="M1471,541.4 L1578,517 L1650,548 L1650,560 L1472.8,575 Z" fill="#fff"/>
<path d="M1471,541.4 L1578,517 L1650,548 L1650,560 L1472.8,575 Z" fill="url(#DL)" stroke="#111" stroke-width="2.6" stroke-linejoin="round"/>
<line x1="1472" y1="558" x2="1640" y2="520" stroke="#111" stroke-width="1.6" stroke-linecap="round"/>
<line x1="1480" y1="572" x2="1645" y2="548" stroke="#111" stroke-width="1.6" stroke-linecap="round"/>
<ellipse cx="1482" cy="545" rx="7.5" ry="3.4" fill="#fff" stroke="#111" stroke-width="2.6" transform="rotate(-12 1482 545)"/>
<ellipse cx="1507.8" cy="539.2" rx="7.5" ry="3.4" fill="#fff" stroke="#111" stroke-width="2.6" transform="rotate(-12 1507.8 539.2)"/>
<ellipse cx="1533.5" cy="533.5" rx="7.5" ry="3.4" fill="#fff" stroke="#111" stroke-width="2.6" transform="rotate(-12 1533.5 533.5)"/>
<ellipse cx="1559.2" cy="527.8" rx="7.5" ry="3.4" fill="#fff" stroke="#111" stroke-width="2.6" transform="rotate(-12 1559.2 527.8)"/>
<ellipse cx="1585" cy="522" rx="7.5" ry="3.4" fill="#fff" stroke="#111" stroke-width="2.6" transform="rotate(-12 1585 522)"/>
<ellipse cx="1482" cy="556.5" rx="7.5" ry="3.4" fill="#fff" stroke="#111" stroke-width="2.6" transform="rotate(-12 1482 556.5)"/>
<ellipse cx="1514.6" cy="552" rx="7.5" ry="3.4" fill="#fff" stroke="#111" stroke-width="2.6" transform="rotate(-12 1514.6 552)"/>
<ellipse cx="1547.2" cy="547.5" rx="7.5" ry="3.4" fill="#fff" stroke="#111" stroke-width="2.6" transform="rotate(-12 1547.2 547.5)"/>
<ellipse cx="1579.9" cy="543" rx="7.5" ry="3.4" fill="#fff" stroke="#111" stroke-width="2.6" transform="rotate(-12 1579.9 543)"/>
<ellipse cx="1612.5" cy="538.5" rx="7.5" ry="3.4" fill="#fff" stroke="#111" stroke-width="2.6" transform="rotate(-12 1612.5 538.5)"/>
<ellipse cx="1482" cy="568" rx="7.5" ry="3.4" fill="#fff" stroke="#111" stroke-width="2.6" transform="rotate(-12 1482 568)"/>
<ellipse cx="1521.5" cy="564.8" rx="7.5" ry="3.4" fill="#fff" stroke="#111" stroke-width="2.6" transform="rotate(-12 1521.5 564.8)"/>
<ellipse cx="1561" cy="561.5" rx="7.5" ry="3.4" fill="#fff" stroke="#111" stroke-width="2.6" transform="rotate(-12 1561 561.5)"/>
<ellipse cx="1600.5" cy="558.2" rx="7.5" ry="3.4" fill="#fff" stroke="#111" stroke-width="2.6" transform="rotate(-12 1600.5 558.2)"/>
<ellipse cx="1640" cy="555" rx="7.5" ry="3.4" fill="#fff" stroke="#111" stroke-width="2.6" transform="rotate(-12 1640 555)"/>
<path d="M1483,574 Q1490,584 1510,583 L1540,578" fill="none" stroke="#111" stroke-width="2.4"/>
<path d="M1545.6,508.6 L1673.6,554.6 A7,7 0 0 0 1678.4,541.4 L1550.4,495.4 A7,7 0 0 0 1545.6,508.6 Z" fill="#fff" stroke="#111" stroke-width="2.6" stroke-linejoin="round"/>
<ellipse cx="1588" cy="509" rx="9" ry="7" fill="#fff" stroke="#111" stroke-width="2.2"/>
<rect x="1579" y="509" width="18" height="6" fill="url(#H)" stroke="#111" stroke-width="1.8"/>
<ellipse cx="1614" cy="521" rx="9" ry="7" fill="#fff" stroke="#111" stroke-width="2.2"/>
<rect x="1605" y="521" width="18" height="6" fill="url(#H)" stroke="#111" stroke-width="1.8"/>
<ellipse cx="1641.7" cy="532.6" rx="9" ry="7" fill="#fff" stroke="#111" stroke-width="2.2"/>
<rect x="1632.7" y="532.6" width="18" height="6" fill="url(#H)" stroke="#111" stroke-width="1.8"/>
<ellipse cx="1555.5" cy="504" rx="5" ry="3" fill="#fff" stroke="#111" stroke-width="2.6"/>
<ellipse cx="1667.6" cy="544.7" rx="5" ry="3" fill="#fff" stroke="#111" stroke-width="2.6"/>
<path d="M1649,690 L1691.7,679 L1691.7,718 L1649,712 Z" fill="#fff"/>
<path d="M1649,690 L1691.7,679 L1691.7,718 L1649,712 Z" fill="url(#X)" stroke="#111" stroke-width="2.6" stroke-linejoin="round"/>
<path d="M1400,655 L1581,627 L1691.7,679 L1533,724 Z" fill="#fff"/>
<path d="M1400,655 L1581,627 L1691.7,679 L1533,724 Z" fill="url(#DL)" stroke="#111" stroke-width="2.6" stroke-linejoin="round"/>
<ellipse cx="1420" cy="660" rx="7.5" ry="3.5" fill="#fff" stroke="#111" stroke-width="2.6" transform="rotate(-10 1420 660)"/>
<ellipse cx="1452" cy="654.8" rx="7.5" ry="3.5" fill="#fff" stroke="#111" stroke-width="2.6" transform="rotate(-10 1452 654.8)"/>
<ellipse cx="1484" cy="649.6" rx="7.5" ry="3.5" fill="#fff" stroke="#111" stroke-width="2.6" transform="rotate(-10 1484 649.6)"/>
<ellipse cx="1516" cy="644.4" rx="7.5" ry="3.5" fill="#111" stroke="#111" stroke-width="2.6" transform="rotate(-10 1516 644.4)"/>
<ellipse cx="1548" cy="639.2" rx="7.5" ry="3.5" fill="#fff" stroke="#111" stroke-width="2.6" transform="rotate(-10 1548 639.2)"/>
<ellipse cx="1580" cy="634" rx="7.5" ry="3.5" fill="#fff" stroke="#111" stroke-width="2.6" transform="rotate(-10 1580 634)"/>
<ellipse cx="1456.7" cy="677.3" rx="7.5" ry="3.5" fill="#fff" stroke="#111" stroke-width="2.6" transform="rotate(-10 1456.7 677.3)"/>
<ellipse cx="1487.5" cy="671.7" rx="7.5" ry="3.5" fill="#fff" stroke="#111" stroke-width="2.6" transform="rotate(-10 1487.5 671.7)"/>
<ellipse cx="1518.3" cy="666.1" rx="7.5" ry="3.5" fill="#111" stroke="#111" stroke-width="2.6" transform="rotate(-10 1518.3 666.1)"/>
<ellipse cx="1549.1" cy="660.5" rx="7.5" ry="3.5" fill="#fff" stroke="#111" stroke-width="2.6" transform="rotate(-10 1549.1 660.5)"/>
<ellipse cx="1579.9" cy="654.9" rx="7.5" ry="3.5" fill="#fff" stroke="#111" stroke-width="2.6" transform="rotate(-10 1579.9 654.9)"/>
<ellipse cx="1610.7" cy="649.3" rx="7.5" ry="3.5" fill="#fff" stroke="#111" stroke-width="2.6" transform="rotate(-10 1610.7 649.3)"/>
<ellipse cx="1493.3" cy="694.7" rx="7.5" ry="3.5" fill="#fff" stroke="#111" stroke-width="2.6" transform="rotate(-10 1493.3 694.7)"/>
<ellipse cx="1522.9" cy="688.7" rx="7.5" ry="3.5" fill="#111" stroke="#111" stroke-width="2.6" transform="rotate(-10 1522.9 688.7)"/>
<ellipse cx="1552.5" cy="682.7" rx="7.5" ry="3.5" fill="#fff" stroke="#111" stroke-width="2.6" transform="rotate(-10 1552.5 682.7)"/>
<ellipse cx="1582.1" cy="676.7" rx="7.5" ry="3.5" fill="#fff" stroke="#111" stroke-width="2.6" transform="rotate(-10 1582.1 676.7)"/>
<ellipse cx="1611.7" cy="670.7" rx="7.5" ry="3.5" fill="#fff" stroke="#111" stroke-width="2.6" transform="rotate(-10 1611.7 670.7)"/>
<ellipse cx="1641.3" cy="664.7" rx="7.5" ry="3.5" fill="#111" stroke="#111" stroke-width="2.6" transform="rotate(-10 1641.3 664.7)"/>
<ellipse cx="1530" cy="712" rx="7.5" ry="3.5" fill="#111" stroke="#111" stroke-width="2.6" transform="rotate(-10 1530 712)"/>
<ellipse cx="1558.4" cy="705.6" rx="7.5" ry="3.5" fill="#fff" stroke="#111" stroke-width="2.6" transform="rotate(-10 1558.4 705.6)"/>
<ellipse cx="1586.8" cy="699.2" rx="7.5" ry="3.5" fill="#fff" stroke="#111" stroke-width="2.6" transform="rotate(-10 1586.8 699.2)"/>
<ellipse cx="1615.2" cy="692.8" rx="7.5" ry="3.5" fill="#fff" stroke="#111" stroke-width="2.6" transform="rotate(-10 1615.2 692.8)"/>
<ellipse cx="1643.6" cy="686.4" rx="7.5" ry="3.5" fill="#111" stroke="#111" stroke-width="2.6" transform="rotate(-10 1643.6 686.4)"/>
<ellipse cx="1672" cy="680" rx="7.5" ry="3.5" fill="#fff" stroke="#111" stroke-width="2.6" transform="rotate(-10 1672 680)"/>
<path d="M1400,655 L1533,724 L1533,764 L1400,695 Z" fill="#fff"/>
<path d="M1400,655 L1533,724 L1533,764 L1400,695 Z" fill="url(#V)" stroke="#111" stroke-width="2.6" stroke-linejoin="round"/>
<rect x="1405.7" y="671.5" width="10" height="19" rx="3.5" fill="#fff" stroke="#111" stroke-width="2.2"/>
<rect x="1429" y="683.5" width="10" height="19" rx="3.5" fill="#fff" stroke="#111" stroke-width="2.2"/>
<rect x="1480" y="712.9" width="10" height="19" rx="3.5" fill="#fff" stroke="#111" stroke-width="2.2"/>
<rect x="1509" y="728.5" width="10" height="19" rx="3.5" fill="#fff" stroke="#111" stroke-width="2.2"/>
<line x1="1426" y1="638" x2="1638" y2="583" stroke="#111" stroke-width="13.4" stroke-linecap="round"/>
<line x1="1426" y1="638" x2="1638" y2="583" stroke="#fff" stroke-width="8.6" stroke-linecap="round"/>
<line x1="1426.6" y1="640.3" x2="1638.6" y2="585.3" stroke="#111" stroke-width="3.8499999999999996" stroke-linecap="round"/>
<ellipse cx="1426.0" cy="638.0" rx="3.8" ry="6.1" fill="#fff" stroke="#111" stroke-width="2.4" transform="rotate(-14.5 1426.0 638.0)"/>
<polyline points="1647,581 1662,577.6 1683,619 1736.5,605" fill="none" stroke="#111" stroke-width="8.5" stroke-linejoin="round" stroke-linecap="round"/>
<polyline points="1647,579 1662,575.6 1683,616 1736.5,602" fill="none" stroke="#fff" stroke-width="1.5" stroke-linejoin="round" stroke-linecap="round"/>
<ellipse cx="1552.0" cy="618.0" rx="31.0" ry="40.5" fill="#fff" stroke="#111" stroke-width="2.8"/>
<ellipse cx="1552.0" cy="618.0" rx="31.0" ry="40.5" fill="url(#XD)"/>
<rect x="1540.0" y="577.5" width="12.0" height="81.0" fill="url(#XD)"/>
<ellipse cx="1546.0" cy="618.0" rx="31.0" ry="40.5" fill="none" stroke="#fff" stroke-width="1.5"/>
<ellipse cx="1540.0" cy="618.0" rx="31.0" ry="40.5" fill="#fff" stroke="#111" stroke-width="2.6"/>
<ellipse cx="1540.0" cy="618.0" rx="31.0" ry="40.5" fill="url(#HL)"/>
<ellipse cx="1542.5" cy="618.0" rx="20.5" ry="28.3" fill="none" stroke="#111" stroke-width="1.6"/>
<path d="M1530.7,579.5 A31.0,40.5 0 0 1 1569.5,605.9 L1558.6,607.9 A20.5,28.3 0 0 0 1533.8,590.5 Z" fill="url(#XD)"/>
<ellipse cx="1530.6" cy="619.0" rx="9.0" ry="13.0" fill="url(#H)" stroke="#111" stroke-width="2.2"/>
<rect x="1518.0" y="606.0" width="12.6" height="26.0" fill="#fff"/>
<rect x="1518.0" y="606.0" width="12.6" height="26.0" fill="url(#HL)"/>
<line x1="1518" y1="606" x2="1530.6" y2="606" stroke="#111" stroke-width="2.2" stroke-linecap="round"/>
<line x1="1518" y1="632" x2="1530.6" y2="632" stroke="#111" stroke-width="2.2" stroke-linecap="round"/>
<ellipse cx="1518.0" cy="619.0" rx="9.0" ry="13.0" fill="#fff" stroke="#111" stroke-width="2.2"/>
<path d="M1442.6,347 L1442.6,717 A13.8,13.8 0 0 0 1470.2,717 L1470.2,347 A13.8,13.8 0 0 0 1442.6,347 Z" fill="#fff"/>
<path d="M1442.6,347 L1442.6,717 A13.8,13.8 0 0 0 1470.2,717 L1470.2,347 A13.8,13.8 0 0 0 1442.6,347 Z" fill="url(#H)" stroke="#111" stroke-width="2.6" stroke-linejoin="round"/>
<ellipse cx="1455.5" cy="386" rx="5.2" ry="7" fill="#fff" stroke="#111" stroke-width="2.6" transform="rotate(10 1455.5 386)"/>
<path d="M1456,379 A5.2,7 0 0 1 1456,393 A1.7,7 0 0 0 1456,379 Z" fill="#111" transform="rotate(10 1455.5 386)"/>
<ellipse cx="1455.5" cy="426.6" rx="5.2" ry="7" fill="#fff" stroke="#111" stroke-width="2.6" transform="rotate(10 1455.5 426.6)"/>
<path d="M1456,419.6 A5.2,7 0 0 1 1456,433.6 A1.7,7 0 0 0 1456,419.6 Z" fill="#111" transform="rotate(10 1455.5 426.6)"/>
<ellipse cx="1455.5" cy="468" rx="5.2" ry="7" fill="#fff" stroke="#111" stroke-width="2.6" transform="rotate(10 1455.5 468)"/>
<path d="M1456,461 A5.2,7 0 0 1 1456,475 A1.7,7 0 0 0 1456,461 Z" fill="#111" transform="rotate(10 1455.5 468)"/>
<ellipse cx="1455.5" cy="507.6" rx="5.2" ry="7" fill="#fff" stroke="#111" stroke-width="2.6" transform="rotate(10 1455.5 507.6)"/>
<path d="M1456,500.6 A5.2,7 0 0 1 1456,514.6 A1.7,7 0 0 0 1456,500.6 Z" fill="#111" transform="rotate(10 1455.5 507.6)"/>
<ellipse cx="1455.5" cy="550" rx="5.2" ry="7" fill="#fff" stroke="#111" stroke-width="2.6" transform="rotate(10 1455.5 550)"/>
<path d="M1456,543 A5.2,7 0 0 1 1456,557 A1.7,7 0 0 0 1456,543 Z" fill="#111" transform="rotate(10 1455.5 550)"/>
<ellipse cx="1455.5" cy="670.7" rx="5.2" ry="7" fill="#fff" stroke="#111" stroke-width="2.6" transform="rotate(10 1455.5 670.7)"/>
<path d="M1456,663.7 A5.2,7 0 0 1 1456,677.7 A1.7,7 0 0 0 1456,663.7 Z" fill="#111" transform="rotate(10 1455.5 670.7)"/>
<circle cx="1453" cy="593" r="9" fill="#fff" stroke="#111" stroke-width="2.4"/>
<line x1="1446" y1="598" x2="1460" y2="588" stroke="#111" stroke-width="2" stroke-linecap="round"/>
<circle cx="1453" cy="712" r="9" fill="#fff" stroke="#111" stroke-width="2.4"/>
<line x1="1446" y1="717" x2="1460" y2="707" stroke="#111" stroke-width="2" stroke-linecap="round"/>
<path d="M2269.6,548.1 L2258.6,670.1 A21.5,21.5 0 0 0 2301.4,673.9 L2312.4,551.9 A21.5,21.5 0 0 0 2269.6,548.1 Z" fill="#fff"/>
<path d="M2269.6,548.1 L2258.6,670.1 A21.5,21.5 0 0 0 2301.4,673.9 L2312.4,551.9 A21.5,21.5 0 0 0 2269.6,548.1 Z" fill="url(#HL)" stroke="#111" stroke-width="2.6" stroke-linejoin="round"/>
<polygon points="2297,565.5 2290,577.6 2276,577.6 2269,565.5 2276,553.4 2290,553.4" fill="#fff" stroke="#111" stroke-width="2.4"/>
<circle cx="2283" cy="565.5" r="4.9" fill="#fff" stroke="#111" stroke-width="2.16"/>
<circle cx="2282.3" cy="566.2" r="2.1" fill="#111"/>
<ellipse cx="2281.3" cy="622.4" rx="6" ry="9" fill="#fff" stroke="#111" stroke-width="2.6" transform="rotate(5 2281.3 622.4)"/>
<path d="M2281.9,613.4 A6,9 0 0 1 2281.9,631.4 A1.9,9 0 0 0 2281.9,613.4 Z" fill="#111" transform="rotate(5 2281.3 622.4)"/>
<ellipse cx="2277.3" cy="665.8" rx="6" ry="8.5" fill="#fff" stroke="#111" stroke-width="2.6" transform="rotate(5 2277.3 665.8)"/>
<path d="M2277.9,657.3 A6,8.5 0 0 1 2277.9,674.3 A1.9,8.5 0 0 0 2277.9,657.3 Z" fill="#111" transform="rotate(5 2277.3 665.8)"/>
<path d="M2289.5,496.1 L2335.5,309.1 A17,17 0 0 0 2302.5,300.9 L2256.5,487.9 A17,17 0 0 0 2289.5,496.1 Z" fill="#fff"/>
<path d="M2289.5,496.1 L2335.5,309.1 A17,17 0 0 0 2302.5,300.9 L2256.5,487.9 A17,17 0 0 0 2289.5,496.1 Z" fill="url(#p1)" stroke="#111" stroke-width="2.6" stroke-linejoin="round"/>
<ellipse cx="2305.7" cy="351.3" rx="5.5" ry="9" fill="#fff" stroke="#111" stroke-width="2.6" transform="rotate(12 2305.7 351.3)"/>
<path d="M2306.2,342.3 A5.5,9 0 0 1 2306.2,360.3 A1.8,9 0 0 0 2306.2,342.3 Z" fill="#111" transform="rotate(12 2305.7 351.3)"/>
<ellipse cx="2295" cy="394.7" rx="5.5" ry="9" fill="#fff" stroke="#111" stroke-width="2.6" transform="rotate(12 2295 394.7)"/>
<path d="M2295.6,385.7 A5.5,9 0 0 1 2295.6,403.7 A1.8,9 0 0 0 2295.6,385.7 Z" fill="#111" transform="rotate(12 2295 394.7)"/>
<ellipse cx="2282.7" cy="439.4" rx="5.5" ry="9" fill="#fff" stroke="#111" stroke-width="2.6" transform="rotate(12 2282.7 439.4)"/>
<path d="M2283.2,430.4 A5.5,9 0 0 1 2283.2,448.4 A1.8,9 0 0 0 2283.2,430.4 Z" fill="#111" transform="rotate(12 2282.7 439.4)"/>
<path d="M2328.3,327.3 L2354.3,317.3 A17.5,17.5 0 0 0 2341.7,284.7 L2315.7,294.7 A17.5,17.5 0 0 0 2328.3,327.3 Z" fill="#fff" stroke="#111" stroke-width="2.6" stroke-linejoin="round"/>
<polygon points="2337,313 2332,321.7 2322,321.7 2317,313 2322,304.3 2332,304.3" fill="#fff" stroke="#111" stroke-width="2.4"/>
<circle cx="2327" cy="313" r="3.5" fill="#fff" stroke="#111" stroke-width="2.16"/>
<circle cx="2326.5" cy="313.5" r="1.5" fill="#111"/>
<ellipse cx="2345" cy="302" rx="4" ry="7" fill="#fff" stroke="#111" stroke-width="2.6"/>
<path d="M2345.4,295 A4,7 0 0 1 2345.4,309 A1.3,7 0 0 0 2345.4,295 Z" fill="#111"/>
<path d="M2336.2,508.3 L2432.5,318.6 A17.5,17.5 0 0 0 2401.3,302.8 L2305,492.5 A17.5,17.5 0 0 0 2336.2,508.3 Z" fill="#fff"/>
<path d="M2336.2,508.3 L2432.5,318.6 A17.5,17.5 0 0 0 2401.3,302.8 L2305,492.5 A17.5,17.5 0 0 0 2336.2,508.3 Z" fill="url(#p2)" stroke="#111" stroke-width="2.6" stroke-linejoin="round"/>
<ellipse cx="2393.8" cy="348.6" rx="6" ry="9" fill="#fff" stroke="#111" stroke-width="2.6" transform="rotate(20 2393.8 348.6)"/>
<path d="M2394.4,339.6 A6,9 0 0 1 2394.4,357.6 A1.9,9 0 0 0 2394.4,339.6 Z" fill="#111" transform="rotate(20 2393.8 348.6)"/>
<ellipse cx="2369.4" cy="400" rx="6" ry="9" fill="#fff" stroke="#111" stroke-width="2.6" transform="rotate(20 2369.4 400)"/>
<path d="M2370,391 A6,9 0 0 1 2370,409 A1.9,9 0 0 0 2370,391 Z" fill="#111" transform="rotate(20 2369.4 400)"/>
<ellipse cx="2342.3" cy="454.3" rx="6" ry="9" fill="#fff" stroke="#111" stroke-width="2.6" transform="rotate(20 2342.3 454.3)"/>
<path d="M2342.9,445.3 A6,9 0 0 1 2342.9,463.3 A1.9,9 0 0 0 2342.9,445.3 Z" fill="#111" transform="rotate(20 2342.3 454.3)"/>
<path d="M2425.6,328.7 L2459.4,312.4 A20,20 0 0 0 2442,276.4 L2408.2,292.7 A20,20 0 0 0 2425.6,328.7 Z" fill="#fff" stroke="#111" stroke-width="2.6" stroke-linejoin="round"/>
<ellipse cx="2446.7" cy="295.8" rx="6" ry="9" fill="#fff" stroke="#111" stroke-width="2.6"/>
<path d="M2447.3,286.8 A6,9 0 0 1 2447.3,304.8 A1.9,9 0 0 0 2447.3,286.8 Z" fill="#111"/>
<circle cx="2412.2" cy="314" r="13" fill="url(#V2)" stroke="#111" stroke-width="2.4"/>
<circle cx="2415.5" cy="313.4" r="13" fill="#fff" stroke="#111" stroke-width="2.4"/>
<line x1="2405.9" y1="318.9" x2="2425.1" y2="307.9" stroke="#111" stroke-width="2.08" stroke-linecap="round"/>
<path d="M2257,480 L2272,476 L2300,510 L2314,525 L2260,532 Z" fill="#fff" stroke="#111" stroke-width="2.6" stroke-linejoin="round"/>
<polygon points="2288.6,492.3 2283.6,501 2273.6,501 2268.6,492.3 2273.6,483.6 2283.6,483.6" fill="#fff" stroke="#111" stroke-width="2.4"/>
<circle cx="2278.6" cy="492.3" r="3.5" fill="#fff" stroke="#111" stroke-width="2.16"/>
<circle cx="2278.1" cy="492.8" r="1.5" fill="#111"/>
<circle cx="2319.8" cy="503.7" r="14" fill="url(#V2)" stroke="#111" stroke-width="2.4"/>
<circle cx="2323.3" cy="503" r="14" fill="#fff" stroke="#111" stroke-width="2.4"/>
<line x1="2312.1" y1="507.1" x2="2334.5" y2="498.9" stroke="#111" stroke-width="2.24" stroke-linecap="round"/>
<ellipse cx="2008.0" cy="690.0" rx="47.0" ry="63.0" fill="#fff" stroke="#111" stroke-width="3"/>
<ellipse cx="2008.0" cy="690.0" rx="47.0" ry="63.0" fill="url(#XD)"/>
<ellipse cx="2008.0" cy="690.0" rx="43.7" ry="59.8" fill="none" stroke="#fff" stroke-width="1.5"/>
<ellipse cx="2013.0" cy="690.0" rx="39.2" ry="59.0" fill="none" stroke="#fff" stroke-width="1.2"/>
<ellipse cx="2018.0" cy="690.0" rx="33.0" ry="55.0" fill="#fff" stroke="#111" stroke-width="2.4"/>
<ellipse cx="2018.0" cy="690.0" rx="33.0" ry="55.0" fill="url(#HL)"/>
<path d="M1991.6,723.0 A33.0,55.0 0 0 0 2044.4,723.0 A39.6,60.5 0 0 1 1991.6,723.0 Z" fill="#111"/>
<g clip-path="url(#cr1)"><path fill-rule="evenodd" fill="#111" d="M1959,625 h98 v130 h-98 Z M1971.41,690 a45.589999999999996,61.11 0 1 0 91.17999999999999,0 a45.589999999999996,61.11 0 1 0 -91.17999999999999,0 Z"/></g>
<ellipse cx="2020" cy="700" rx="10" ry="18" fill="url(#X)" stroke="#111" stroke-width="2"/>
<path d="M2026.5,490 L2026.5,716 A20.5,20.5 0 0 0 2067.5,716 L2067.5,490 A20.5,20.5 0 0 0 2026.5,490 Z" fill="#fff"/>
<path d="M2026.5,490 L2026.5,716 A20.5,20.5 0 0 0 2067.5,716 L2067.5,490 A20.5,20.5 0 0 0 2026.5,490 Z" fill="url(#HL)" stroke="#111" stroke-width="2.6" stroke-linejoin="round"/>
<ellipse cx="2048.6" cy="492.4" rx="6.5" ry="9.5" fill="#fff" stroke="#111" stroke-width="2.6" transform="rotate(5 2048.6 492.4)"/>
<path d="M2049.2,482.9 A6.5,9.5 0 0 1 2049.2,501.9 A2.1,9.5 0 0 0 2049.2,482.9 Z" fill="#111" transform="rotate(5 2048.6 492.4)"/>
<ellipse cx="2047.6" cy="540.6" rx="6.5" ry="9.5" fill="#fff" stroke="#111" stroke-width="2.6" transform="rotate(5 2047.6 540.6)"/>
<path d="M2048.2,531.1 A6.5,9.5 0 0 1 2048.2,550.1 A2.1,9.5 0 0 0 2048.2,531.1 Z" fill="#111" transform="rotate(5 2047.6 540.6)"/>
<ellipse cx="2046.5" cy="658.9" rx="7" ry="9.5" fill="#111"/>
<path d="M2010,570 L2316,519 L2316,534 L2010,586 Z" fill="#fff" stroke="#111" stroke-width="2.6" stroke-linejoin="round"/>
<line x1="2010" y1="586" x2="2316" y2="534" stroke="#111" stroke-width="3.5" stroke-linecap="round"/>
<ellipse cx="2105" cy="552.2" rx="5" ry="2.5" fill="#111"/>
<ellipse cx="2160" cy="543.1" rx="5" ry="2.5" fill="#111"/>
<ellipse cx="2215" cy="534" rx="5" ry="2.5" fill="#111"/>
<ellipse cx="2265" cy="525.7" rx="5" ry="2.5" fill="#111"/>
<path d="M1922,590 Q1912,598 1925,604 L1985,602 L1990,592 L1935,585 Z" fill="#fff" stroke="#111" stroke-width="2.6"/>
<ellipse cx="1942" cy="592" rx="8" ry="3.5" fill="#fff" stroke="#111" stroke-width="2.6"/>
<path d="M1935,558 Q1918,562 1928,572 L2033,602 Q2060,606 2058,594 L2040,584 L1990,566 Z" fill="#fff" stroke="#111" stroke-width="2.6"/>
<ellipse cx="1951" cy="567" rx="8" ry="3.5" fill="#fff" stroke="#111" stroke-width="2.6"/>
<ellipse cx="2033" cy="591" rx="8" ry="3.5" fill="#fff" stroke="#111" stroke-width="2.6"/>
<rect x="1983" y="570" width="20" height="13" rx="4" fill="url(#H)" stroke="#111" stroke-width="2"/>
<rect x="2053" y="557" width="20" height="13" rx="4" fill="url(#H)" stroke="#111" stroke-width="2"/>
<rect x="2175" y="534" width="20" height="13" rx="4" fill="url(#H)" stroke="#111" stroke-width="2"/>
<line x1="2042" y1="696.5" x2="2080" y2="703" stroke="#111" stroke-width="10.4" stroke-linecap="round"/>
<line x1="2042" y1="696.5" x2="2080" y2="703" stroke="#fff" stroke-width="5.6" stroke-linecap="round"/>
<line x1="2041.7" y1="698.2" x2="2079.7" y2="704.7" stroke="#111" stroke-width="2.8" stroke-linecap="round"/>
<path d="M2080,491 L2080,705 A21,21 0 0 0 2122,705 L2122,491 A21,21 0 0 0 2080,491 Z" fill="#fff" stroke="#111" stroke-width="2.6" stroke-linejoin="round"/>
<path d="M2082,620 L2120,620 L2120,705 A19,19 0 0 1 2082,705 Z" fill="url(#DL)"/>
<ellipse cx="2101" cy="492.4" rx="6.5" ry="9.5" fill="#fff" stroke="#111" stroke-width="2.6" transform="rotate(5 2101 492.4)"/>
<path d="M2101.7,482.9 A6.5,9.5 0 0 1 2101.7,501.9 A2.1,9.5 0 0 0 2101.7,482.9 Z" fill="#111" transform="rotate(5 2101 492.4)"/>
<ellipse cx="2100" cy="551" rx="6.5" ry="9.5" fill="#fff" stroke="#111" stroke-width="2.6" transform="rotate(5 2100 551)"/>
<path d="M2100.7,541.5 A6.5,9.5 0 0 1 2100.7,560.5 A2.1,9.5 0 0 0 2100.7,541.5 Z" fill="#111" transform="rotate(5 2100 551)"/>
<ellipse cx="2097.8" cy="661" rx="6.5" ry="9.5" fill="#fff" stroke="#111" stroke-width="2.6" transform="rotate(5 2097.8 661)"/>
<path d="M2098.5,651.5 A6.5,9.5 0 0 1 2098.5,670.5 A2.1,9.5 0 0 0 2098.5,651.5 Z" fill="#111" transform="rotate(5 2097.8 661)"/>
<circle cx="2098.5" cy="609.3" r="14" fill="url(#V2)" stroke="#111" stroke-width="2.4"/>
<circle cx="2102" cy="608.6" r="14" fill="#fff" stroke="#111" stroke-width="2.4"/>
<line x1="2090.8" y1="612.7" x2="2113.2" y2="604.5" stroke="#111" stroke-width="2.24" stroke-linecap="round"/>
<ellipse cx="2137.5" cy="726.0" rx="55.5" ry="67.0" fill="#fff" stroke="#111" stroke-width="3"/>
<ellipse cx="2137.5" cy="726.0" rx="55.5" ry="67.0" fill="url(#XD)"/>
<ellipse cx="2137.5" cy="726.0" rx="51.6" ry="63.6" fill="none" stroke="#fff" stroke-width="1.5"/>
<ellipse cx="2138.8" cy="726.0" rx="44.8" ry="59.5" fill="none" stroke="#fff" stroke-width="1.2"/>
<ellipse cx="2140.0" cy="726.0" rx="36.0" ry="52.0" fill="#fff" stroke="#111" stroke-width="2.4"/>
<ellipse cx="2140.0" cy="726.0" rx="36.0" ry="52.0" fill="url(#HL)"/>
<path d="M2111.2,757.2 A36.0,52.0 0 0 0 2168.8,757.2 A43.2,57.2 0 0 1 2111.2,757.2 Z" fill="#111"/>
<ellipse cx="2141.0" cy="726.0" rx="12.0" ry="18.0" fill="#fff" stroke="#111" stroke-width="2.4"/>
<ellipse cx="2142.8" cy="726.0" rx="5.4" ry="9.9" fill="#fff" stroke="#111" stroke-width="2"/>
<g clip-path="url(#cr2)"><path fill-rule="evenodd" fill="#111" d="M2080.0,657 h115.0 v138 h-115.0 Z M2074.665,726 a53.835,64.99 0 1 0 107.67,0 a53.835,64.99 0 1 0 -107.67,0 Z"/></g>
<path d="M290.4,1213.9 L145.8,1630.8 A21.5,21.5 0 0 0 186.5,1644.9 L331,1228 A21.5,21.5 0 0 0 290.4,1213.9 Z" fill="#fff"/>
<path d="M290.4,1213.9 L145.8,1630.8 A21.5,21.5 0 0 0 186.5,1644.9 L331,1228 A21.5,21.5 0 0 0 290.4,1213.9 Z" fill="url(#p3)"/>
<g clip-path="url(#c3)"><path d="M215.2,1365.3 L111.4,1664.4 L192.7,1692.5 L296.4,1393.5 Z" fill="#fff"/><path d="M215.2,1365.3 L111.4,1664.4 L192.7,1692.5 L296.4,1393.5 Z" fill="url(#p4)"/></g>
<path d="M290.4,1213.9 L145.8,1630.8 A21.5,21.5 0 0 0 186.5,1644.9 L331,1228 A21.5,21.5 0 0 0 290.4,1213.9 Z" fill="none" stroke="#111" stroke-width="2.6"/>
<ellipse cx="308.6" cy="1227.1" rx="7" ry="12" fill="#fff" stroke="#111" stroke-width="2.6" transform="rotate(18 308.6 1227.1)"/>
<path d="M309.3,1215.1 A7,12 0 0 1 309.3,1239.1 A2.2,12 0 0 0 309.3,1215.1 Z" fill="#111" transform="rotate(18 308.6 1227.1)"/>
<ellipse cx="291.2" cy="1277.2" rx="7" ry="12" fill="#fff" stroke="#111" stroke-width="2.6" transform="rotate(18 291.2 1277.2)"/>
<path d="M291.9,1265.2 A7,12 0 0 1 291.9,1289.2 A2.2,12 0 0 0 291.9,1265.2 Z" fill="#111" transform="rotate(18 291.2 1277.2)"/>
<ellipse cx="273.9" cy="1327.3" rx="7" ry="12" fill="#fff" stroke="#111" stroke-width="2.6" transform="rotate(18 273.9 1327.3)"/>
<path d="M274.6,1315.3 A7,12 0 0 1 274.6,1339.3 A2.2,12 0 0 0 274.6,1315.3 Z" fill="#111" transform="rotate(18 273.9 1327.3)"/>
<ellipse cx="239.1" cy="1427.5" rx="7" ry="12" fill="#fff" stroke="#111" stroke-width="2.6" transform="rotate(18 239.1 1427.5)"/>
<path d="M239.8,1415.5 A7,12 0 0 1 239.8,1439.5 A2.2,12 0 0 0 239.8,1415.5 Z" fill="#111" transform="rotate(18 239.1 1427.5)"/>
<ellipse cx="221.7" cy="1477.6" rx="7" ry="12" fill="#fff" stroke="#111" stroke-width="2.6" transform="rotate(18 221.7 1477.6)"/>
<path d="M222.4,1465.6 A7,12 0 0 1 222.4,1489.6 A2.2,12 0 0 0 222.4,1465.6 Z" fill="#111" transform="rotate(18 221.7 1477.6)"/>
<ellipse cx="204.3" cy="1527.7" rx="7" ry="12" fill="#fff" stroke="#111" stroke-width="2.6" transform="rotate(18 204.3 1527.7)"/>
<path d="M205,1515.7 A7,12 0 0 1 205,1539.7 A2.2,12 0 0 0 205,1515.7 Z" fill="#111" transform="rotate(18 204.3 1527.7)"/>
<ellipse cx="187" cy="1577.8" rx="7" ry="12" fill="#fff" stroke="#111" stroke-width="2.6" transform="rotate(18 187 1577.8)"/>
<path d="M187.7,1565.8 A7,12 0 0 1 187.7,1589.8 A2.2,12 0 0 0 187.7,1565.8 Z" fill="#111" transform="rotate(18 187 1577.8)"/>
<ellipse cx="169.6" cy="1627.9" rx="7" ry="12" fill="#fff" stroke="#111" stroke-width="2.6" transform="rotate(18 169.6 1627.9)"/>
<path d="M170.3,1615.9 A7,12 0 0 1 170.3,1639.9 A2.2,12 0 0 0 170.3,1615.9 Z" fill="#111" transform="rotate(18 169.6 1627.9)"/>
<path d="M300,1318 L510,1284 L512,1300 L300,1340 Z" fill="#fff" stroke="#111" stroke-width="2.4" stroke-linejoin="round"/>
<line x1="302" y1="1326" x2="510" y2="1291" stroke="#111" stroke-width="1.2" stroke-linecap="round"/>
<ellipse cx="325.2" cy="1324.7" rx="7" ry="3.2" fill="#111" transform="rotate(-9 325.2 1324.7)"/>
<ellipse cx="365.1" cy="1317.8" rx="7" ry="3.2" fill="#111" transform="rotate(-9 365.1 1317.8)"/>
<ellipse cx="405.0" cy="1311.0" rx="7" ry="3.2" fill="#111" transform="rotate(-9 405.0 1311.0)"/>
<ellipse cx="444.9" cy="1304.2" rx="7" ry="3.2" fill="#111" transform="rotate(-9 444.9 1304.2)"/>
<ellipse cx="484.8" cy="1297.3" rx="7" ry="3.2" fill="#111" transform="rotate(-9 484.8 1297.3)"/>
<path d="M172.4,1212.5 L366.4,1684.6 A21,21 0 0 0 405.2,1668.7 L211.3,1196.5 A21,21 0 0 0 172.4,1212.5 Z" fill="#fff"/>
<path d="M172.4,1212.5 L366.4,1684.6 A21,21 0 0 0 405.2,1668.7 L211.3,1196.5 A21,21 0 0 0 172.4,1212.5 Z" fill="url(#p5)"/>
<g clip-path="url(#c4)"><path d="M240.3,1432.9 L362.9,1731.5 L440.6,1699.5 L318,1401 Z" fill="#fff"/><path d="M240.3,1432.9 L362.9,1731.5 L440.6,1699.5 L318,1401 Z" fill="url(#p6)"/></g>
<path d="M172.4,1212.5 L366.4,1684.6 A21,21 0 0 0 405.2,1668.7 L211.3,1196.5 A21,21 0 0 0 172.4,1212.5 Z" fill="none" stroke="#111" stroke-width="2.6"/>
<ellipse cx="198.3" cy="1220.2" rx="7" ry="12" fill="#fff" stroke="#111" stroke-width="2.6" transform="rotate(-20 198.3 1220.2)"/>
<path d="M199,1208.2 A7,12 0 0 1 199,1232.2 A2.2,12 0 0 0 199,1208.2 Z" fill="#111" transform="rotate(-20 198.3 1220.2)"/>
<ellipse cx="218.7" cy="1269.9" rx="7" ry="12" fill="#fff" stroke="#111" stroke-width="2.6" transform="rotate(-20 218.7 1269.9)"/>
<path d="M219.4,1257.9 A7,12 0 0 1 219.4,1281.9 A2.2,12 0 0 0 219.4,1257.9 Z" fill="#111" transform="rotate(-20 218.7 1269.9)"/>
<ellipse cx="239.1" cy="1319.6" rx="7" ry="12" fill="#fff" stroke="#111" stroke-width="2.6" transform="rotate(-20 239.1 1319.6)"/>
<path d="M239.8,1307.6 A7,12 0 0 1 239.8,1331.6 A2.2,12 0 0 0 239.8,1307.6 Z" fill="#111" transform="rotate(-20 239.1 1319.6)"/>
<ellipse cx="279.9" cy="1419" rx="7" ry="12" fill="#fff" stroke="#111" stroke-width="2.6" transform="rotate(-20 279.9 1419)"/>
<path d="M280.6,1407 A7,12 0 0 1 280.6,1431 A2.2,12 0 0 0 280.6,1407 Z" fill="#111" transform="rotate(-20 279.9 1419)"/>
<ellipse cx="300.4" cy="1468.6" rx="7" ry="12" fill="#fff" stroke="#111" stroke-width="2.6" transform="rotate(-20 300.4 1468.6)"/>
<path d="M301.1,1456.6 A7,12 0 0 1 301.1,1480.6 A2.2,12 0 0 0 301.1,1456.6 Z" fill="#111" transform="rotate(-20 300.4 1468.6)"/>
<ellipse cx="320.8" cy="1518.3" rx="7" ry="12" fill="#fff" stroke="#111" stroke-width="2.6" transform="rotate(-20 320.8 1518.3)"/>
<path d="M321.5,1506.3 A7,12 0 0 1 321.5,1530.3 A2.2,12 0 0 0 321.5,1506.3 Z" fill="#111" transform="rotate(-20 320.8 1518.3)"/>
<ellipse cx="341.2" cy="1568" rx="7" ry="12" fill="#fff" stroke="#111" stroke-width="2.6" transform="rotate(-20 341.2 1568)"/>
<path d="M341.9,1556 A7,12 0 0 1 341.9,1580 A2.2,12 0 0 0 341.9,1556 Z" fill="#111" transform="rotate(-20 341.2 1568)"/>
<ellipse cx="361.6" cy="1617.7" rx="7" ry="12" fill="#fff" stroke="#111" stroke-width="2.6" transform="rotate(-20 361.6 1617.7)"/>
<path d="M362.3,1605.7 A7,12 0 0 1 362.3,1629.7 A2.2,12 0 0 0 362.3,1605.7 Z" fill="#111" transform="rotate(-20 361.6 1617.7)"/>
<ellipse cx="382" cy="1667.4" rx="7" ry="12" fill="#fff" stroke="#111" stroke-width="2.6" transform="rotate(-20 382 1667.4)"/>
<path d="M382.7,1655.4 A7,12 0 0 1 382.7,1679.4 A2.2,12 0 0 0 382.7,1655.4 Z" fill="#111" transform="rotate(-20 382 1667.4)"/>
<circle cx="251.5" cy="1367.8" r="16" fill="url(#V2)" stroke="#111" stroke-width="2.4"/>
<circle cx="255.5" cy="1367" r="16" fill="#fff" stroke="#111" stroke-width="2.4"/>
<line x1="250.8" y1="1379.8" x2="260.2" y2="1354.2" stroke="#111" stroke-width="2.56" stroke-linecap="round"/>
<path d="M515.5,1164.5 L399.8,1580.3 A21,21 0 0 0 440.2,1591.6 L556,1175.8 A21,21 0 0 0 515.5,1164.5 Z" fill="#fff"/>
<path d="M515.5,1164.5 L399.8,1580.3 A21,21 0 0 0 440.2,1591.6 L556,1175.8 A21,21 0 0 0 515.5,1164.5 Z" fill="url(#p7)"/>
<g clip-path="url(#c5)"><path d="M437.4,1366.8 L368.3,1615.2 L449.2,1637.7 L518.3,1389.3 Z" fill="#fff"/><path d="M437.4,1366.8 L368.3,1615.2 L449.2,1637.7 L518.3,1389.3 Z" fill="url(#p8)"/></g>
<path d="M515.5,1164.5 L399.8,1580.3 A21,21 0 0 0 440.2,1591.6 L556,1175.8 A21,21 0 0 0 515.5,1164.5 Z" fill="none" stroke="#111" stroke-width="2.6"/>
<ellipse cx="533.9" cy="1176.9" rx="7" ry="12" fill="#fff" stroke="#111" stroke-width="2.6" transform="rotate(15 533.9 1176.9)"/>
<path d="M534.6,1164.9 A7,12 0 0 1 534.6,1188.9 A2.2,12 0 0 0 534.6,1164.9 Z" fill="#111" transform="rotate(15 533.9 1176.9)"/>
<ellipse cx="521.5" cy="1221.4" rx="7" ry="12" fill="#fff" stroke="#111" stroke-width="2.6" transform="rotate(15 521.5 1221.4)"/>
<path d="M522.2,1209.4 A7,12 0 0 1 522.2,1233.4 A2.2,12 0 0 0 522.2,1209.4 Z" fill="#111" transform="rotate(15 521.5 1221.4)"/>
<ellipse cx="509.1" cy="1265.9" rx="7" ry="12" fill="#fff" stroke="#111" stroke-width="2.6" transform="rotate(15 509.1 1265.9)"/>
<path d="M509.8,1253.9 A7,12 0 0 1 509.8,1277.9 A2.2,12 0 0 0 509.8,1253.9 Z" fill="#111" transform="rotate(15 509.1 1265.9)"/>
<ellipse cx="496.7" cy="1310.4" rx="7" ry="12" fill="#fff" stroke="#111" stroke-width="2.6" transform="rotate(15 496.7 1310.4)"/>
<path d="M497.4,1298.4 A7,12 0 0 1 497.4,1322.4 A2.2,12 0 0 0 497.4,1298.4 Z" fill="#111" transform="rotate(15 496.7 1310.4)"/>
<ellipse cx="459.6" cy="1443.8" rx="7" ry="12" fill="#fff" stroke="#111" stroke-width="2.6" transform="rotate(15 459.6 1443.8)"/>
<path d="M460.3,1431.8 A7,12 0 0 1 460.3,1455.8 A2.2,12 0 0 0 460.3,1431.8 Z" fill="#111" transform="rotate(15 459.6 1443.8)"/>
<ellipse cx="447.2" cy="1488.3" rx="7" ry="12" fill="#fff" stroke="#111" stroke-width="2.6" transform="rotate(15 447.2 1488.3)"/>
<path d="M447.9,1476.3 A7,12 0 0 1 447.9,1500.3 A2.2,12 0 0 0 447.9,1476.3 Z" fill="#111" transform="rotate(15 447.2 1488.3)"/>
<ellipse cx="434.8" cy="1532.8" rx="7" ry="12" fill="#fff" stroke="#111" stroke-width="2.6" transform="rotate(15 434.8 1532.8)"/>
<path d="M435.5,1520.8 A7,12 0 0 1 435.5,1544.8 A2.2,12 0 0 0 435.5,1520.8 Z" fill="#111" transform="rotate(15 434.8 1532.8)"/>
<ellipse cx="422.4" cy="1577.3" rx="7" ry="12" fill="#fff" stroke="#111" stroke-width="2.6" transform="rotate(15 422.4 1577.3)"/>
<path d="M423.1,1565.3 A7,12 0 0 1 423.1,1589.3 A2.2,12 0 0 0 423.1,1565.3 Z" fill="#111" transform="rotate(15 422.4 1577.3)"/>
<path d="M402.1,1170.6 L620.6,1623.7 A21.5,21.5 0 0 0 659.4,1605 L440.8,1151.9 A21.5,21.5 0 0 0 402.1,1170.6 Z" fill="#fff"/>
<path d="M402.1,1170.6 L620.6,1623.7 A21.5,21.5 0 0 0 659.4,1605 L440.8,1151.9 A21.5,21.5 0 0 0 402.1,1170.6 Z" fill="url(#p9)"/>
<g clip-path="url(#c6)"><path d="M502.9,1429.1 L619.9,1671.8 L697.4,1634.4 L580.4,1391.8 Z" fill="#fff"/><path d="M502.9,1429.1 L619.9,1671.8 L697.4,1634.4 L580.4,1391.8 Z" fill="url(#p10)"/></g>
<path d="M402.1,1170.6 L620.6,1623.7 A21.5,21.5 0 0 0 659.4,1605 L440.8,1151.9 A21.5,21.5 0 0 0 402.1,1170.6 Z" fill="none" stroke="#111" stroke-width="2.6"/>
<ellipse cx="429.5" cy="1177.9" rx="7" ry="12" fill="#fff" stroke="#111" stroke-width="2.6" transform="rotate(-22 429.5 1177.9)"/>
<path d="M430.2,1165.9 A7,12 0 0 1 430.2,1189.9 A2.2,12 0 0 0 430.2,1165.9 Z" fill="#111" transform="rotate(-22 429.5 1177.9)"/>
<ellipse cx="452.5" cy="1225.5" rx="7" ry="12" fill="#fff" stroke="#111" stroke-width="2.6" transform="rotate(-22 452.5 1225.5)"/>
<path d="M453.2,1213.5 A7,12 0 0 1 453.2,1237.5 A2.2,12 0 0 0 453.2,1213.5 Z" fill="#111" transform="rotate(-22 452.5 1225.5)"/>
<ellipse cx="475.5" cy="1273.2" rx="7" ry="12" fill="#fff" stroke="#111" stroke-width="2.6" transform="rotate(-22 475.5 1273.2)"/>
<path d="M476.2,1261.2 A7,12 0 0 1 476.2,1285.2 A2.2,12 0 0 0 476.2,1261.2 Z" fill="#111" transform="rotate(-22 475.5 1273.2)"/>
<ellipse cx="567.4" cy="1463.8" rx="7" ry="12" fill="#fff" stroke="#111" stroke-width="2.6" transform="rotate(-22 567.4 1463.8)"/>
<path d="M568.1,1451.8 A7,12 0 0 1 568.1,1475.8 A2.2,12 0 0 0 568.1,1451.8 Z" fill="#111" transform="rotate(-22 567.4 1463.8)"/>
<ellipse cx="590.3" cy="1511.4" rx="7" ry="12" fill="#fff" stroke="#111" stroke-width="2.6" transform="rotate(-22 590.3 1511.4)"/>
<path d="M591,1499.4 A7,12 0 0 1 591,1523.4 A2.2,12 0 0 0 591,1499.4 Z" fill="#111" transform="rotate(-22 590.3 1511.4)"/>
<ellipse cx="613.3" cy="1559.1" rx="7" ry="12" fill="#fff" stroke="#111" stroke-width="2.6" transform="rotate(-22 613.3 1559.1)"/>
<path d="M614,1547.1 A7,12 0 0 1 614,1571.1 A2.2,12 0 0 0 614,1547.1 Z" fill="#111" transform="rotate(-22 613.3 1559.1)"/>
<ellipse cx="636.3" cy="1606.7" rx="7" ry="12" fill="#fff" stroke="#111" stroke-width="2.6" transform="rotate(-22 636.3 1606.7)"/>
<path d="M637,1594.7 A7,12 0 0 1 637,1618.7 A2.2,12 0 0 0 637,1594.7 Z" fill="#111" transform="rotate(-22 636.3 1606.7)"/>
<path d="M498,1288 L515,1284 L520,1330 L505,1335 Z" fill="#fff" stroke="#111" stroke-width="2.2" stroke-linejoin="round"/>
<circle cx="491.7" cy="1313" r="22" fill="url(#V2)" stroke="#111" stroke-width="2.4"/>
<polygon points="502.9,1311 494.3,1325.9 477.1,1325.9 468.5,1311 477.1,1296.1 494.3,1296.1" fill="#fff" stroke="#111" stroke-width="2.4"/>
<circle cx="485.7" cy="1311" r="6" fill="#fff" stroke="#111" stroke-width="2.16"/>
<circle cx="484.8" cy="1311.9" r="2.6" fill="#111"/>
<circle cx="514.6" cy="1365.4" r="19" fill="url(#V2)" stroke="#111" stroke-width="2.4"/>
<polygon points="523.4,1363.4 516,1376.2 501.2,1376.2 493.8,1363.4 501.2,1350.6 516,1350.6" fill="#fff" stroke="#111" stroke-width="2.4"/>
<circle cx="508.6" cy="1363.4" r="5.2" fill="#fff" stroke="#111" stroke-width="2.16"/>
<circle cx="507.9" cy="1364.1" r="2.2" fill="#111"/>
<circle cx="540.7" cy="1416" r="21" fill="url(#V2)" stroke="#111" stroke-width="2.4"/>
<polygon points="551.1,1414 542.9,1428.2 526.5,1428.2 518.3,1414 526.5,1399.8 542.9,1399.8" fill="#fff" stroke="#111" stroke-width="2.4"/>
<circle cx="534.7" cy="1414" r="5.7" fill="#fff" stroke="#111" stroke-width="2.16"/>
<circle cx="533.9" cy="1414.8" r="2.5" fill="#111"/>
<circle cx="461.4" cy="1349.4" r="14" fill="url(#V2)" stroke="#111" stroke-width="2.4"/>
<circle cx="464.9" cy="1348.7" r="14" fill="#fff" stroke="#111" stroke-width="2.4"/>
<line x1="460.8" y1="1359.9" x2="469" y2="1337.5" stroke="#111" stroke-width="2.24" stroke-linecap="round"/>
<circle cx="459.6" cy="1398.5" r="15" fill="url(#V2)" stroke="#111" stroke-width="2.4"/>
<circle cx="463.3" cy="1397.7" r="15" fill="#fff" stroke="#111" stroke-width="2.4"/>
<line x1="458.9" y1="1409.7" x2="467.7" y2="1385.7" stroke="#111" stroke-width="2.4" stroke-linecap="round"/>
<path d="M1127,1312 L1134,1312 L1134,1522 L1015,1536 L1008,1530 Z" fill="#fff"/>
<path d="M1127,1312 L1134,1312 L1134,1522 L1015,1536 L1008,1530 Z" fill="url(#X)" stroke="#111" stroke-width="2.6" stroke-linejoin="round"/>
<ellipse cx="1121" cy="1381" rx="8" ry="15" fill="#fff" stroke="#111" stroke-width="2.6" transform="rotate(20 1121 1381)"/>
<path d="M1121.8,1366 A8,15 0 0 1 1121.8,1396 A2.6,15 0 0 0 1121.8,1366 Z" fill="#111" transform="rotate(20 1121 1381)"/>
<ellipse cx="1096" cy="1444" rx="12" ry="17" fill="#fff" stroke="#111" stroke-width="2.6" transform="rotate(20 1096 1444)"/>
<path d="M1097.2,1427 A12,17 0 0 1 1097.2,1461 A3.8,17 0 0 0 1097.2,1427 Z" fill="#111" transform="rotate(20 1096 1444)"/>
<ellipse cx="1063" cy="1502" rx="12" ry="17" fill="#fff" stroke="#111" stroke-width="2.6" transform="rotate(20 1063 1502)"/>
<path d="M1064.2,1485 A12,17 0 0 1 1064.2,1519 A3.8,17 0 0 0 1064.2,1485 Z" fill="#111" transform="rotate(20 1063 1502)"/>
<path d="M1197,1308 L1303,1497 L1237,1503 L1197,1444 Z" fill="#fff"/>
<path d="M1197,1308 L1303,1497 L1237,1503 L1197,1444 Z" fill="url(#X)" stroke="#111" stroke-width="2.6" stroke-linejoin="round"/>
<ellipse cx="1236" cy="1434" rx="11" ry="17" fill="#fff" stroke="#111" stroke-width="2.6" transform="rotate(20 1236 1434)"/>
<path d="M1237.1,1417 A11,17 0 0 1 1237.1,1451 A3.5,17 0 0 0 1237.1,1417 Z" fill="#111" transform="rotate(20 1236 1434)"/>
<ellipse cx="1262.6" cy="1489.5" rx="10" ry="14" fill="#fff" stroke="#111" stroke-width="2.6" transform="rotate(20 1262.6 1489.5)"/>
<path d="M1263.6,1475.5 A10,14 0 0 1 1263.6,1503.5 A3.2,14 0 0 0 1263.6,1475.5 Z" fill="#111" transform="rotate(20 1262.6 1489.5)"/>
<ellipse cx="1204" cy="1386" rx="5" ry="15" fill="#fff" stroke="#111" stroke-width="2.6"/>
<path d="M1204.5,1371 A5,15 0 0 1 1204.5,1401 A1.6,15 0 0 0 1204.5,1371 Z" fill="#111"/>
<path d="M1017.8,1532.5 L1303,1495.9 L1537.8,1555 L1245,1593 Z" fill="#fff"/>
<path d="M1017.8,1532.5 L1303,1495.9 L1537.8,1555 L1245,1593 Z" fill="url(#HL)" stroke="#111" stroke-width="2.6" stroke-linejoin="round"/>
<ellipse cx="1045.0" cy="1532.0" rx="11.5" ry="4.6" fill="#111" transform="rotate(-6 1045.0 1532.0)"/>
<ellipse cx="1049.0" cy="1532.5" rx="5" ry="2.4" fill="#fff" transform="rotate(-6 1045.0 1532.0)"/>
<ellipse cx="1096.0" cy="1526.0" rx="11.5" ry="4.6" fill="#111" transform="rotate(-6 1096.0 1526.0)"/>
<ellipse cx="1100.0" cy="1526.5" rx="5" ry="2.4" fill="#fff" transform="rotate(-6 1096.0 1526.0)"/>
<ellipse cx="1147.0" cy="1520.0" rx="11.5" ry="4.6" fill="#111" transform="rotate(-6 1147.0 1520.0)"/>
<ellipse cx="1151.0" cy="1520.5" rx="5" ry="2.4" fill="#fff" transform="rotate(-6 1147.0 1520.0)"/>
<ellipse cx="1198.0" cy="1514.0" rx="11.5" ry="4.6" fill="#111" transform="rotate(-6 1198.0 1514.0)"/>
<ellipse cx="1202.0" cy="1514.5" rx="5" ry="2.4" fill="#fff" transform="rotate(-6 1198.0 1514.0)"/>
<ellipse cx="1249.0" cy="1508.0" rx="11.5" ry="4.6" fill="#111" transform="rotate(-6 1249.0 1508.0)"/>
<ellipse cx="1253.0" cy="1508.5" rx="5" ry="2.4" fill="#fff" transform="rotate(-6 1249.0 1508.0)"/>
<ellipse cx="1300.0" cy="1502.0" rx="11.5" ry="4.6" fill="#111" transform="rotate(-6 1300.0 1502.0)"/>
<ellipse cx="1304.0" cy="1502.5" rx="5" ry="2.4" fill="#fff" transform="rotate(-6 1300.0 1502.0)"/>
<ellipse cx="1096.2" cy="1545.2" rx="11.5" ry="4.6" fill="#111" transform="rotate(-6 1096.2 1545.2)"/>
<ellipse cx="1100.2" cy="1545.8" rx="5" ry="2.4" fill="#fff" transform="rotate(-6 1096.2 1545.2)"/>
<ellipse cx="1147.8" cy="1539.2" rx="11.5" ry="4.6" fill="#111" transform="rotate(-6 1147.8 1539.2)"/>
<ellipse cx="1151.8" cy="1539.8" rx="5" ry="2.4" fill="#fff" transform="rotate(-6 1147.8 1539.2)"/>
<ellipse cx="1199.2" cy="1533.2" rx="11.5" ry="4.6" fill="#111" transform="rotate(-6 1199.2 1533.2)"/>
<ellipse cx="1203.2" cy="1533.8" rx="5" ry="2.4" fill="#fff" transform="rotate(-6 1199.2 1533.2)"/>
<ellipse cx="1250.8" cy="1527.2" rx="11.5" ry="4.6" fill="#111" transform="rotate(-6 1250.8 1527.2)"/>
<ellipse cx="1254.8" cy="1527.8" rx="5" ry="2.4" fill="#fff" transform="rotate(-6 1250.8 1527.2)"/>
<ellipse cx="1302.2" cy="1521.2" rx="11.5" ry="4.6" fill="#111" transform="rotate(-6 1302.2 1521.2)"/>
<ellipse cx="1306.2" cy="1521.8" rx="5" ry="2.4" fill="#fff" transform="rotate(-6 1302.2 1521.2)"/>
<ellipse cx="1353.8" cy="1515.2" rx="11.5" ry="4.6" fill="#111" transform="rotate(-6 1353.8 1515.2)"/>
<ellipse cx="1357.8" cy="1515.8" rx="5" ry="2.4" fill="#fff" transform="rotate(-6 1353.8 1515.2)"/>
<ellipse cx="1147.5" cy="1558.5" rx="11.5" ry="4.6" fill="#111" transform="rotate(-6 1147.5 1558.5)"/>
<ellipse cx="1151.5" cy="1559.0" rx="5" ry="2.4" fill="#fff" transform="rotate(-6 1147.5 1558.5)"/>
<ellipse cx="1199.5" cy="1552.5" rx="11.5" ry="4.6" fill="#111" transform="rotate(-6 1199.5 1552.5)"/>
<ellipse cx="1203.5" cy="1553.0" rx="5" ry="2.4" fill="#fff" transform="rotate(-6 1199.5 1552.5)"/>
<ellipse cx="1251.5" cy="1546.5" rx="11.5" ry="4.6" fill="#111" transform="rotate(-6 1251.5 1546.5)"/>
<ellipse cx="1255.5" cy="1547.0" rx="5" ry="2.4" fill="#fff" transform="rotate(-6 1251.5 1546.5)"/>
<ellipse cx="1303.5" cy="1540.5" rx="11.5" ry="4.6" fill="#111" transform="rotate(-6 1303.5 1540.5)"/>
<ellipse cx="1307.5" cy="1541.0" rx="5" ry="2.4" fill="#fff" transform="rotate(-6 1303.5 1540.5)"/>
<ellipse cx="1355.5" cy="1534.5" rx="11.5" ry="4.6" fill="#111" transform="rotate(-6 1355.5 1534.5)"/>
<ellipse cx="1359.5" cy="1535.0" rx="5" ry="2.4" fill="#fff" transform="rotate(-6 1355.5 1534.5)"/>
<ellipse cx="1407.5" cy="1528.5" rx="11.5" ry="4.6" fill="#111" transform="rotate(-6 1407.5 1528.5)"/>
<ellipse cx="1411.5" cy="1529.0" rx="5" ry="2.4" fill="#fff" transform="rotate(-6 1407.5 1528.5)"/>
<ellipse cx="1198.8" cy="1571.8" rx="11.5" ry="4.6" fill="#111" transform="rotate(-6 1198.8 1571.8)"/>
<ellipse cx="1202.8" cy="1572.2" rx="5" ry="2.4" fill="#fff" transform="rotate(-6 1198.8 1571.8)"/>
<ellipse cx="1251.2" cy="1565.8" rx="11.5" ry="4.6" fill="#111" transform="rotate(-6 1251.2 1565.8)"/>
<ellipse cx="1255.2" cy="1566.2" rx="5" ry="2.4" fill="#fff" transform="rotate(-6 1251.2 1565.8)"/>
<ellipse cx="1303.8" cy="1559.8" rx="11.5" ry="4.6" fill="#111" transform="rotate(-6 1303.8 1559.8)"/>
<ellipse cx="1307.8" cy="1560.2" rx="5" ry="2.4" fill="#fff" transform="rotate(-6 1303.8 1559.8)"/>
<ellipse cx="1356.2" cy="1553.8" rx="11.5" ry="4.6" fill="#111" transform="rotate(-6 1356.2 1553.8)"/>
<ellipse cx="1360.2" cy="1554.2" rx="5" ry="2.4" fill="#fff" transform="rotate(-6 1356.2 1553.8)"/>
<ellipse cx="1408.8" cy="1547.8" rx="11.5" ry="4.6" fill="#111" transform="rotate(-6 1408.8 1547.8)"/>
<ellipse cx="1412.8" cy="1548.2" rx="5" ry="2.4" fill="#fff" transform="rotate(-6 1408.8 1547.8)"/>
<ellipse cx="1461.2" cy="1541.8" rx="11.5" ry="4.6" fill="#111" transform="rotate(-6 1461.2 1541.8)"/>
<ellipse cx="1465.2" cy="1542.2" rx="5" ry="2.4" fill="#fff" transform="rotate(-6 1461.2 1541.8)"/>
<ellipse cx="1250.0" cy="1585.0" rx="11.5" ry="4.6" fill="#111" transform="rotate(-6 1250.0 1585.0)"/>
<ellipse cx="1254.0" cy="1585.5" rx="5" ry="2.4" fill="#fff" transform="rotate(-6 1250.0 1585.0)"/>
<ellipse cx="1303.0" cy="1579.0" rx="11.5" ry="4.6" fill="#111" transform="rotate(-6 1303.0 1579.0)"/>
<ellipse cx="1307.0" cy="1579.5" rx="5" ry="2.4" fill="#fff" transform="rotate(-6 1303.0 1579.0)"/>
<ellipse cx="1356.0" cy="1573.0" rx="11.5" ry="4.6" fill="#111" transform="rotate(-6 1356.0 1573.0)"/>
<ellipse cx="1360.0" cy="1573.5" rx="5" ry="2.4" fill="#fff" transform="rotate(-6 1356.0 1573.0)"/>
<ellipse cx="1409.0" cy="1567.0" rx="11.5" ry="4.6" fill="#111" transform="rotate(-6 1409.0 1567.0)"/>
<ellipse cx="1413.0" cy="1567.5" rx="5" ry="2.4" fill="#fff" transform="rotate(-6 1409.0 1567.0)"/>
<ellipse cx="1462.0" cy="1561.0" rx="11.5" ry="4.6" fill="#111" transform="rotate(-6 1462.0 1561.0)"/>
<ellipse cx="1466.0" cy="1561.5" rx="5" ry="2.4" fill="#fff" transform="rotate(-6 1462.0 1561.0)"/>
<ellipse cx="1515.0" cy="1555.0" rx="11.5" ry="4.6" fill="#111" transform="rotate(-6 1515.0 1555.0)"/>
<ellipse cx="1519.0" cy="1555.5" rx="5" ry="2.4" fill="#fff" transform="rotate(-6 1515.0 1555.0)"/>
<path d="M1012,1533 L1190,1580 L1013,1611 Z" fill="#fff"/>
<path d="M1012,1533 L1190,1580 L1013,1611 Z" fill="url(#XL)" stroke="#111" stroke-width="2.6" stroke-linejoin="round"/>
<path d="M1012,1533 L1068,1548 L1068,1601 L1013,1611 Z" fill="#fff"/>
<path d="M1012,1533 L1068,1548 L1068,1601 L1013,1611 Z" fill="url(#X)" stroke="#111" stroke-width="2.6" stroke-linejoin="round"/>
<polygon points="1072.6,1572.9 1064.1,1587.6 1047.1,1587.6 1038.6,1572.9 1047.1,1558.2 1064.1,1558.2" fill="#fff" stroke="#111" stroke-width="2.4"/>
<circle cx="1055.6" cy="1572.9" r="5.9" fill="#fff" stroke="#111" stroke-width="2.16"/>
<circle cx="1054.8" cy="1573.8" r="2.5" fill="#111"/>
<rect x="1085" y="1560" width="12" height="20" rx="4.2" fill="#fff" stroke="#111" stroke-width="2.2"/>
<path d="M1245,1593 L1540,1555 L1540,1618 Q1540,1630 1528,1632 L1262,1657 Q1250,1657 1250,1645 Z" fill="#fff" stroke="#111" stroke-width="2.8"/>
<path d="M1245,1593 L1540,1555 L1540,1618 Q1540,1630 1528,1632 L1262,1657 Q1250,1657 1250,1645 Z" fill="url(#X)"/>
<rect x="1269.3" y="1609.9" width="17" height="32" rx="6" fill="#fff" stroke="#111" stroke-width="2.2"/>
<rect x="1334.9" y="1599.8" width="17" height="32" rx="6" fill="#fff" stroke="#111" stroke-width="2.2"/>
<rect x="1398.1" y="1592" width="17" height="32" rx="6" fill="#fff" stroke="#111" stroke-width="2.2"/>
<rect x="1456.1" y="1582" width="17" height="32" rx="6" fill="#fff" stroke="#111" stroke-width="2.2"/>
<rect x="1501.5" y="1577" width="17" height="32" rx="6" fill="#fff" stroke="#111" stroke-width="2.2"/>
<path d="M1130,880 L1198,880 L1199.5,1517 L1131,1519 Z" fill="#fff"/>
<path d="M1130,880 L1198,880 L1199.5,1517 L1131,1519 Z" fill="url(#HM)" stroke="#111" stroke-width="2.6" stroke-linejoin="round"/>
<path d="M1130,1030 L1198,1030 L1198,1105 L1130,1105 Z" fill="#fff"/>
<path d="M1130,1030 L1198,1030 L1198,1105 L1130,1105 Z" fill="url(#X)" stroke="#111" stroke-width="0.1" stroke-linejoin="round"/>
<line x1="1130" y1="1030" x2="1130" y2="1105" stroke="#111" stroke-width="2.6" stroke-linecap="round"/>
<line x1="1198" y1="1030" x2="1198" y2="1105" stroke="#111" stroke-width="2.6" stroke-linecap="round"/>
<ellipse cx="1166.8" cy="1086.6" rx="12" ry="18" fill="#fff" stroke="#111" stroke-width="2.6" transform="rotate(8 1166.8 1086.6)"/>
<path d="M1168,1068.6 A12,18 0 0 1 1168,1104.6 A3.8,18 0 0 0 1168,1068.6 Z" fill="#111" transform="rotate(8 1166.8 1086.6)"/>
<ellipse cx="1166.8" cy="1167.9" rx="12" ry="18" fill="#fff" stroke="#111" stroke-width="2.6" transform="rotate(8 1166.8 1167.9)"/>
<path d="M1168,1149.9 A12,18 0 0 1 1168,1185.9 A3.8,18 0 0 0 1168,1149.9 Z" fill="#111" transform="rotate(8 1166.8 1167.9)"/>
<ellipse cx="1166.8" cy="1245.5" rx="12" ry="18" fill="#fff" stroke="#111" stroke-width="2.6" transform="rotate(8 1166.8 1245.5)"/>
<path d="M1168,1227.5 A12,18 0 0 1 1168,1263.5 A3.8,18 0 0 0 1168,1227.5 Z" fill="#111" transform="rotate(8 1166.8 1245.5)"/>
<ellipse cx="1166.8" cy="1398.7" rx="12" ry="18" fill="#fff" stroke="#111" stroke-width="2.6" transform="rotate(8 1166.8 1398.7)"/>
<path d="M1168,1380.7 A12,18 0 0 1 1168,1416.7 A3.8,18 0 0 0 1168,1380.7 Z" fill="#111" transform="rotate(8 1166.8 1398.7)"/>
<ellipse cx="1166.8" cy="1482" rx="12" ry="18" fill="#fff" stroke="#111" stroke-width="2.6" transform="rotate(8 1166.8 1482)"/>
<path d="M1168,1464 A12,18 0 0 1 1168,1500 A3.8,18 0 0 0 1168,1464 Z" fill="#111" transform="rotate(8 1166.8 1482)"/>
<ellipse cx="1164.4" cy="1325.8" rx="22.0" ry="22.4" fill="#fff" stroke="#111" stroke-width="2.6"/>
<ellipse cx="1164.4" cy="1325.8" rx="22.0" ry="22.4" fill="url(#V2)"/>
<ellipse cx="1171.0" cy="1324.0" rx="20.2" ry="22.0" fill="#fff" stroke="#111" stroke-width="2.8"/>
<line x1="1156.7" y1="1336" x2="1185.3" y2="1312" stroke="#111" stroke-width="3.08" stroke-linecap="round"/>
<path d="M986.5,880 L986.5,1003 A36.5,36.5 0 0 0 1059.5,1003 L1059.5,880 A36.5,36.5 0 0 0 986.5,880 Z" fill="#fff"/>
<path d="M986.5,880 L986.5,1003 A36.5,36.5 0 0 0 1059.5,1003 L1059.5,880 A36.5,36.5 0 0 0 986.5,880 Z" fill="url(#X)" stroke="#111" stroke-width="2.6" stroke-linejoin="round"/>
<path d="M1130,890 L1198,886 L1198,960 L1130,964 Z" fill="#fff"/>
<path d="M1130,890 L1198,886 L1198,960 L1130,964 Z" fill="url(#X)" stroke="#111" stroke-width="2.6" stroke-linejoin="round"/>
<ellipse cx="1161.3" cy="927.8" rx="11" ry="16.5" fill="#fff" stroke="#111" stroke-width="2.6" transform="rotate(8 1161.3 927.8)"/>
<path d="M1162.4,911.3 A11,16.5 0 0 1 1162.4,944.3 A3.5,16.5 0 0 0 1162.4,911.3 Z" fill="#111" transform="rotate(8 1161.3 927.8)"/>
<path d="M1255,858 L1255,990 A35,35 0 0 0 1325,990 L1325,858 A35,35 0 0 0 1255,858 Z" fill="#fff"/>
<path d="M1255,858 L1255,990 A35,35 0 0 0 1325,990 L1325,858 A35,35 0 0 0 1255,858 Z" fill="url(#X)" stroke="#111" stroke-width="2.6" stroke-linejoin="round"/>
<path d="M1024,898.9 L1298,882.9 A35,35 0 0 0 1294,813.1 L1020,829.1 A35,35 0 0 0 1024,898.9 Z" fill="#fff"/>
<path d="M1024,898.9 L1298,882.9 A35,35 0 0 0 1294,813.1 L1020,829.1 A35,35 0 0 0 1024,898.9 Z" fill="url(#VD)" stroke="#111" stroke-width="2.6" stroke-linejoin="round"/>
<ellipse cx="1094.8" cy="865" rx="11" ry="16.5" fill="#fff" stroke="#111" stroke-width="2.6" transform="rotate(8 1094.8 865)"/>
<path d="M1095.9,848.5 A11,16.5 0 0 1 1095.9,881.5 A3.5,16.5 0 0 0 1095.9,848.5 Z" fill="#111" transform="rotate(8 1094.8 865)"/>
<ellipse cx="1227.8" cy="850" rx="11" ry="16.5" fill="#fff" stroke="#111" stroke-width="2.6" transform="rotate(8 1227.8 850)"/>
<path d="M1228.9,833.5 A11,16.5 0 0 1 1228.9,866.5 A3.5,16.5 0 0 0 1228.9,833.5 Z" fill="#111" transform="rotate(8 1227.8 850)"/>
<ellipse cx="1026.5" cy="938.8" rx="11" ry="16.5" fill="#fff" stroke="#111" stroke-width="2.6" transform="rotate(8 1026.5 938.8)"/>
<path d="M1027.6,922.3 A11,16.5 0 0 1 1027.6,955.3 A3.5,16.5 0 0 0 1027.6,922.3 Z" fill="#111" transform="rotate(8 1026.5 938.8)"/>
<ellipse cx="1161.3" cy="927.8" rx="11" ry="16.5" fill="#fff" stroke="#111" stroke-width="2.6" transform="rotate(8 1161.3 927.8)"/>
<path d="M1162.4,911.3 A11,16.5 0 0 1 1162.4,944.3 A3.5,16.5 0 0 0 1162.4,911.3 Z" fill="#111" transform="rotate(8 1161.3 927.8)"/>
<ellipse cx="1294.3" cy="913" rx="11" ry="16.5" fill="#fff" stroke="#111" stroke-width="2.6" transform="rotate(8 1294.3 913)"/>
<path d="M1295.4,896.5 A11,16.5 0 0 1 1295.4,929.5 A3.5,16.5 0 0 0 1295.4,896.5 Z" fill="#111" transform="rotate(8 1294.3 913)"/>
<path d="M1003,985 Q1003,972 1018,972 L1060,972 L1066,1040 L1084,1046 Q1108,1050 1102,1062 Q1098,1068 1080,1068 L1028,1068 Q1002,1066 1001,1050 Z" fill="#fff" stroke="#111" stroke-width="2.8"/>
<ellipse cx="1058" cy="1057" rx="13" ry="4.5" fill="url(#X)"/>
<path d="M1271,962 Q1271,950 1284,949 L1318,947 Q1333,948 1333,962 L1333,1026 L1350,1030 Q1364,1036 1356,1044 Q1350,1048 1336,1048 L1292,1048 Q1274,1046 1273,1034 Z" fill="#fff" stroke="#111" stroke-width="2.8"/>
<ellipse cx="1322" cy="1038" rx="12" ry="4.5" fill="url(#X)"/>
<path d="M1060,972 L1275,953 L1275,1025 L1064,1040 Z" fill="#fff"/>
<path d="M1060,972 L1275,953 L1275,1025 L1064,1040 Z" fill="url(#VD)" stroke="#111" stroke-width="2.6" stroke-linejoin="round"/>
<ellipse cx="1094.8" cy="1001.6" rx="11" ry="16.5" fill="#fff" stroke="#111" stroke-width="2.6" transform="rotate(8 1094.8 1001.6)"/>
<path d="M1095.9,985.1 A11,16.5 0 0 1 1095.9,1018.1 A3.5,16.5 0 0 0 1095.9,985.1 Z" fill="#111" transform="rotate(8 1094.8 1001.6)"/>
<ellipse cx="1227.8" cy="988.7" rx="11" ry="16.5" fill="#fff" stroke="#111" stroke-width="2.6" transform="rotate(8 1227.8 988.7)"/>
<path d="M1228.9,972.2 A11,16.5 0 0 1 1228.9,1005.2 A3.5,16.5 0 0 0 1228.9,972.2 Z" fill="#111" transform="rotate(8 1227.8 988.7)"/>
<ellipse cx="1032.8" cy="872.3" rx="23.0" ry="23.5" fill="#fff" stroke="#111" stroke-width="2.6"/>
<ellipse cx="1032.8" cy="872.3" rx="23.0" ry="23.5" fill="url(#V2)"/>
<ellipse cx="1039.7" cy="870.5" rx="21.2" ry="23.0" fill="#fff" stroke="#111" stroke-width="2.8"/>
<line x1="1020.8" y1="875.6" x2="1058.6" y2="865.4" stroke="#111" stroke-width="3.22" stroke-linecap="round"/>
<ellipse cx="1165.8" cy="864.8" rx="23.0" ry="23.5" fill="#fff" stroke="#111" stroke-width="2.6"/>
<ellipse cx="1165.8" cy="864.8" rx="23.0" ry="23.5" fill="url(#V2)"/>
<ellipse cx="1172.7" cy="863.0" rx="21.2" ry="23.0" fill="#fff" stroke="#111" stroke-width="2.8"/>
<line x1="1153.8" y1="868.1" x2="1191.6" y2="857.9" stroke="#111" stroke-width="3.22" stroke-linecap="round"/>
<ellipse cx="1298.8" cy="852.0" rx="23.0" ry="23.5" fill="#fff" stroke="#111" stroke-width="2.6"/>
<ellipse cx="1298.8" cy="852.0" rx="23.0" ry="23.5" fill="url(#V2)"/>
<ellipse cx="1305.7" cy="850.2" rx="21.2" ry="23.0" fill="#fff" stroke="#111" stroke-width="2.8"/>
<line x1="1286.8" y1="855.3" x2="1324.6" y2="845.1" stroke="#111" stroke-width="3.22" stroke-linecap="round"/>
<ellipse cx="1032.8" cy="1016.4" rx="23.0" ry="23.5" fill="#fff" stroke="#111" stroke-width="2.6"/>
<ellipse cx="1032.8" cy="1016.4" rx="23.0" ry="23.5" fill="url(#V2)"/>
<ellipse cx="1039.7" cy="1014.6" rx="21.2" ry="23.0" fill="#fff" stroke="#111" stroke-width="2.8"/>
<line x1="1020.8" y1="1019.7" x2="1058.6" y2="1009.5" stroke="#111" stroke-width="3.22" stroke-linecap="round"/>
<ellipse cx="1167.7" cy="1007.1" rx="23.0" ry="23.5" fill="#fff" stroke="#111" stroke-width="2.6"/>
<ellipse cx="1167.7" cy="1007.1" rx="23.0" ry="23.5" fill="url(#V2)"/>
<ellipse cx="1174.6" cy="1005.3" rx="21.2" ry="23.0" fill="#fff" stroke="#111" stroke-width="2.8"/>
<line x1="1155.7" y1="1010.4" x2="1193.5" y2="1000.2" stroke="#111" stroke-width="3.22" stroke-linecap="round"/>
<ellipse cx="1302.5" cy="992.4" rx="23.0" ry="23.5" fill="#fff" stroke="#111" stroke-width="2.6"/>
<ellipse cx="1302.5" cy="992.4" rx="23.0" ry="23.5" fill="url(#V2)"/>
<ellipse cx="1309.4" cy="990.6" rx="21.2" ry="23.0" fill="#fff" stroke="#111" stroke-width="2.8"/>
<line x1="1290.5" y1="995.7" x2="1328.3" y2="985.5" stroke="#111" stroke-width="3.22" stroke-linecap="round"/>
<path d="M1825,1577.7 L1946,1625.7 L1946,1640 L1827.6,1636 Z" fill="#fff"/>
<path d="M1825,1577.7 L1946,1625.7 L1946,1640 L1827.6,1636 Z" fill="url(#X)" stroke="#111" stroke-width="2.6" stroke-linejoin="round"/>
<rect x="1840" y="1596" width="10" height="20" rx="3.5" fill="#fff" stroke="#111" stroke-width="2.2"/>
<path d="M1825,1577.7 L2105,1540 L2226.5,1590 L1946,1625.7 Z" fill="#fff"/>
<path d="M1825,1577.7 L2105,1540 L2226.5,1590 L1946,1625.7 Z" fill="url(#HL)" stroke="#111" stroke-width="2.6" stroke-linejoin="round"/>
<ellipse cx="1860.0" cy="1575.0" rx="10" ry="4.2" fill="#111" transform="rotate(-8 1860.0 1575.0)"/>
<ellipse cx="1863.5" cy="1575.5" rx="4.5" ry="2.2" fill="#fff"/>
<ellipse cx="1907.0" cy="1569.0" rx="10" ry="4.2" fill="#111" transform="rotate(-8 1907.0 1569.0)"/>
<ellipse cx="1910.5" cy="1569.5" rx="4.5" ry="2.2" fill="#fff"/>
<ellipse cx="1954.0" cy="1563.0" rx="10" ry="4.2" fill="#111" transform="rotate(-8 1954.0 1563.0)"/>
<ellipse cx="1957.5" cy="1563.5" rx="4.5" ry="2.2" fill="#fff"/>
<ellipse cx="2001.0" cy="1557.0" rx="10" ry="4.2" fill="#111" transform="rotate(-8 2001.0 1557.0)"/>
<ellipse cx="2004.5" cy="1557.5" rx="4.5" ry="2.2" fill="#fff"/>
<ellipse cx="2048.0" cy="1551.0" rx="10" ry="4.2" fill="#111" transform="rotate(-8 2048.0 1551.0)"/>
<ellipse cx="2051.5" cy="1551.5" rx="4.5" ry="2.2" fill="#fff"/>
<ellipse cx="2095.0" cy="1545.0" rx="10" ry="4.2" fill="#111" transform="rotate(-8 2095.0 1545.0)"/>
<ellipse cx="2098.5" cy="1545.5" rx="4.5" ry="2.2" fill="#fff"/>
<ellipse cx="1890.0" cy="1588.3" rx="10" ry="4.2" fill="#111" transform="rotate(-8 1890.0 1588.3)"/>
<ellipse cx="1893.5" cy="1588.8" rx="4.5" ry="2.2" fill="#fff"/>
<ellipse cx="1938.3" cy="1582.7" rx="10" ry="4.2" fill="#111" transform="rotate(-8 1938.3 1582.7)"/>
<ellipse cx="1941.8" cy="1583.2" rx="4.5" ry="2.2" fill="#fff"/>
<ellipse cx="1986.7" cy="1577.0" rx="10" ry="4.2" fill="#111" transform="rotate(-8 1986.7 1577.0)"/>
<ellipse cx="1990.2" cy="1577.5" rx="4.5" ry="2.2" fill="#fff"/>
<ellipse cx="2035.0" cy="1571.3" rx="10" ry="4.2" fill="#111" transform="rotate(-8 2035.0 1571.3)"/>
<ellipse cx="2038.5" cy="1571.8" rx="4.5" ry="2.2" fill="#fff"/>
<ellipse cx="2083.3" cy="1565.7" rx="10" ry="4.2" fill="#111" transform="rotate(-8 2083.3 1565.7)"/>
<ellipse cx="2086.8" cy="1566.2" rx="4.5" ry="2.2" fill="#fff"/>
<ellipse cx="2131.7" cy="1560.0" rx="10" ry="4.2" fill="#111" transform="rotate(-8 2131.7 1560.0)"/>
<ellipse cx="2135.2" cy="1560.5" rx="4.5" ry="2.2" fill="#fff"/>
<ellipse cx="1920.0" cy="1601.7" rx="10" ry="4.2" fill="#111" transform="rotate(-8 1920.0 1601.7)"/>
<ellipse cx="1923.5" cy="1602.2" rx="4.5" ry="2.2" fill="#fff"/>
<ellipse cx="1969.7" cy="1596.3" rx="10" ry="4.2" fill="#111" transform="rotate(-8 1969.7 1596.3)"/>
<ellipse cx="1973.2" cy="1596.8" rx="4.5" ry="2.2" fill="#fff"/>
<ellipse cx="2019.3" cy="1591.0" rx="10" ry="4.2" fill="#111" transform="rotate(-8 2019.3 1591.0)"/>
<ellipse cx="2022.8" cy="1591.5" rx="4.5" ry="2.2" fill="#fff"/>
<ellipse cx="2069.0" cy="1585.7" rx="10" ry="4.2" fill="#111" transform="rotate(-8 2069.0 1585.7)"/>
<ellipse cx="2072.5" cy="1586.2" rx="4.5" ry="2.2" fill="#fff"/>
<ellipse cx="2118.7" cy="1580.3" rx="10" ry="4.2" fill="#111" transform="rotate(-8 2118.7 1580.3)"/>
<ellipse cx="2122.2" cy="1580.8" rx="4.5" ry="2.2" fill="#fff"/>
<ellipse cx="2168.3" cy="1575.0" rx="10" ry="4.2" fill="#111" transform="rotate(-8 2168.3 1575.0)"/>
<ellipse cx="2171.8" cy="1575.5" rx="4.5" ry="2.2" fill="#fff"/>
<ellipse cx="1950.0" cy="1615.0" rx="10" ry="4.2" fill="#111" transform="rotate(-8 1950.0 1615.0)"/>
<ellipse cx="1953.5" cy="1615.5" rx="4.5" ry="2.2" fill="#fff"/>
<ellipse cx="2001.0" cy="1610.0" rx="10" ry="4.2" fill="#111" transform="rotate(-8 2001.0 1610.0)"/>
<ellipse cx="2004.5" cy="1610.5" rx="4.5" ry="2.2" fill="#fff"/>
<ellipse cx="2052.0" cy="1605.0" rx="10" ry="4.2" fill="#111" transform="rotate(-8 2052.0 1605.0)"/>
<ellipse cx="2055.5" cy="1605.5" rx="4.5" ry="2.2" fill="#fff"/>
<ellipse cx="2103.0" cy="1600.0" rx="10" ry="4.2" fill="#111" transform="rotate(-8 2103.0 1600.0)"/>
<ellipse cx="2106.5" cy="1600.5" rx="4.5" ry="2.2" fill="#fff"/>
<ellipse cx="2154.0" cy="1595.0" rx="10" ry="4.2" fill="#111" transform="rotate(-8 2154.0 1595.0)"/>
<ellipse cx="2157.5" cy="1595.5" rx="4.5" ry="2.2" fill="#fff"/>
<ellipse cx="2205.0" cy="1590.0" rx="10" ry="4.2" fill="#111" transform="rotate(-8 2205.0 1590.0)"/>
<ellipse cx="2208.5" cy="1590.5" rx="4.5" ry="2.2" fill="#fff"/>
<path d="M1946,1625.7 L2226.5,1590 L2226.5,1640 Q2226,1650 2215,1652 L1960,1688 Q1950,1688 1950,1678 Z" fill="#fff" stroke="#111" stroke-width="2.8"/>
<path d="M1946,1625.7 L2226.5,1590 L2226.5,1640 Q2226,1650 2215,1652 L1960,1688 Q1950,1688 1950,1678 Z" fill="url(#V)"/>
<rect x="1962" y="1642" width="14" height="28" rx="5" fill="#fff" stroke="#111" stroke-width="2.2"/>
<rect x="2022.5" y="1634.4" width="14" height="28" rx="5" fill="#fff" stroke="#111" stroke-width="2.2"/>
<rect x="2080.6" y="1626.8" width="14" height="28" rx="5" fill="#fff" stroke="#111" stroke-width="2.2"/>
<rect x="2138.7" y="1616.7" width="14" height="28" rx="5" fill="#fff" stroke="#111" stroke-width="2.2"/>
<rect x="2196.7" y="1606.6" width="14" height="28" rx="5" fill="#fff" stroke="#111" stroke-width="2.2"/>
<path d="M1845,1525 L1896,1515 L1900,1590 L1850,1600 Z" fill="#fff"/>
<path d="M1845,1525 L1896,1515 L1900,1590 L1850,1600 Z" fill="url(#X)" stroke="#111" stroke-width="2.6" stroke-linejoin="round"/>
<path d="M2340.5,949 L1858.5,1524 A28,28 0 0 0 1901.5,1560 L2383.5,985 A28,28 0 0 0 2340.5,949 Z" fill="#fff"/>
<path d="M2340.5,949 L1858.5,1524 A28,28 0 0 0 1901.5,1560 L2383.5,985 A28,28 0 0 0 2340.5,949 Z" fill="url(#DD)"/>
<g clip-path="url(#c7)"><path d="M2054,1247.3 L1801.1,1548.9 L1886.9,1620.9 L2139.8,1319.2 Z" fill="#fff"/><path d="M2054,1247.3 L1801.1,1548.9 L1886.9,1620.9 L2139.8,1319.2 Z" fill="url(#XD)"/></g>
<path d="M2340.5,949 L1858.5,1524 A28,28 0 0 0 1901.5,1560 L2383.5,985 A28,28 0 0 0 2340.5,949 Z" fill="none" stroke="#111" stroke-width="2.6"/>
<ellipse cx="2240" cy="1098" rx="8" ry="11.5" fill="#fff" stroke="#111" stroke-width="2.6" transform="rotate(30 2240 1098)"/>
<path d="M2240.8,1086.5 A8,11.5 0 0 1 2240.8,1109.5 A2.6,11.5 0 0 0 2240.8,1086.5 Z" fill="#111" transform="rotate(30 2240 1098)"/>
<ellipse cx="2204" cy="1142" rx="8" ry="11.5" fill="#fff" stroke="#111" stroke-width="2.6" transform="rotate(30 2204 1142)"/>
<path d="M2204.8,1130.5 A8,11.5 0 0 1 2204.8,1153.5 A2.6,11.5 0 0 0 2204.8,1130.5 Z" fill="#111" transform="rotate(30 2204 1142)"/>
<ellipse cx="2168" cy="1187" rx="8" ry="11.5" fill="#fff" stroke="#111" stroke-width="2.6" transform="rotate(30 2168 1187)"/>
<path d="M2168.8,1175.5 A8,11.5 0 0 1 2168.8,1198.5 A2.6,11.5 0 0 0 2168.8,1175.5 Z" fill="#111" transform="rotate(30 2168 1187)"/>
<ellipse cx="2131" cy="1232" rx="8" ry="11.5" fill="#fff" stroke="#111" stroke-width="2.6" transform="rotate(30 2131 1232)"/>
<path d="M2131.8,1220.5 A8,11.5 0 0 1 2131.8,1243.5 A2.6,11.5 0 0 0 2131.8,1220.5 Z" fill="#111" transform="rotate(30 2131 1232)"/>
<ellipse cx="2094" cy="1275" rx="8" ry="11.5" fill="#fff" stroke="#111" stroke-width="2.6" transform="rotate(30 2094 1275)"/>
<path d="M2094.8,1263.5 A8,11.5 0 0 1 2094.8,1286.5 A2.6,11.5 0 0 0 2094.8,1263.5 Z" fill="#111" transform="rotate(30 2094 1275)"/>
<ellipse cx="2059" cy="1315" rx="8" ry="11.5" fill="#fff" stroke="#111" stroke-width="2.6" transform="rotate(30 2059 1315)"/>
<path d="M2059.8,1303.5 A8,11.5 0 0 1 2059.8,1326.5 A2.6,11.5 0 0 0 2059.8,1303.5 Z" fill="#111" transform="rotate(30 2059 1315)"/>
<polygon points="1900.6,1542.4 1890.6,1559.7 1870.6,1559.7 1860.6,1542.4 1870.6,1525.1 1890.6,1525.1" fill="#fff" stroke="#111" stroke-width="2.4"/>
<circle cx="1880.6" cy="1542.4" r="7" fill="#fff" stroke="#111" stroke-width="2.16"/>
<circle cx="1879.6" cy="1543.4" r="3" fill="#111"/>
<polygon points="2049.5,1368 2039.5,1385.3 2019.5,1385.3 2009.5,1368 2019.5,1350.7 2039.5,1350.7" fill="#fff" stroke="#111" stroke-width="2.4"/>
<circle cx="2029.5" cy="1368" r="7" fill="#fff" stroke="#111" stroke-width="2.16"/>
<circle cx="2028.5" cy="1369" r="3" fill="#111"/>
<line x1="1935" y1="1440" x2="2350" y2="945" stroke="#111" stroke-width="3" stroke-linecap="round"/>
<line x1="1838" y1="1401" x2="1880" y2="1412" stroke="#111" stroke-width="12.4" stroke-linecap="round"/>
<line x1="1838" y1="1401" x2="1880" y2="1412" stroke="#fff" stroke-width="7.6" stroke-linecap="round"/>
<line x1="1837.4" y1="1403.1" x2="1879.4" y2="1414.1" stroke="#111" stroke-width="3.5" stroke-linecap="round"/>
<ellipse cx="1838.0" cy="1401.0" rx="3.5" ry="5.5" fill="#fff" stroke="#111" stroke-width="2.4" transform="rotate(14.7 1838.0 1401.0)"/>
<ellipse cx="1921" cy="1442.5" rx="76" ry="74.5" fill="#fff" stroke="#111" stroke-width="3"/>
<ellipse cx="1921" cy="1442.5" rx="76" ry="74.5" fill="url(#XD)"/>
<ellipse cx="1921" cy="1442.5" rx="70" ry="69" fill="none" stroke="#fff" stroke-width="1.4"/>
<ellipse cx="1942" cy="1444" rx="55" ry="66" fill="#fff" stroke="#111" stroke-width="2.4"/>
<ellipse cx="1942" cy="1444" rx="55" ry="66" fill="url(#DL)"/>
<path d="M1905,1395 A52,62 0 0 0 1905,1493 A44,56 0 0 1 1905,1395 Z" fill="url(#X)"/>
<ellipse cx="1942" cy="1447" rx="30" ry="36" fill="none" stroke="#111" stroke-width="1.6"/>
<ellipse cx="1930" cy="1452" rx="16" ry="20" fill="url(#X)" stroke="#111" stroke-width="2.2"/>
<ellipse cx="1896" cy="1450" rx="9" ry="11" fill="#fff" stroke="#111" stroke-width="2"/>
<ellipse cx="1960" cy="1462" rx="18" ry="22" fill="url(#D)" stroke="#111" stroke-width="2.2"/>
<path d="M2029.4,1532.2 L2144.4,1564.2 A21,21 0 0 0 2155.6,1523.8 L2040.6,1491.8 A21,21 0 0 0 2029.4,1532.2 Z" fill="#fff"/>
<path d="M2029.4,1532.2 L2144.4,1564.2 A21,21 0 0 0 2155.6,1523.8 L2040.6,1491.8 A21,21 0 0 0 2029.4,1532.2 Z" fill="url(#D)" stroke="#111" stroke-width="2.6" stroke-linejoin="round"/>
<ellipse cx="2054.8" cy="1502" rx="8" ry="11" fill="#fff" stroke="#111" stroke-width="2.6" transform="rotate(10 2054.8 1502)"/>
<path d="M2055.6,1491 A8,11 0 0 1 2055.6,1513 A2.6,11 0 0 0 2055.6,1491 Z" fill="#111" transform="rotate(10 2054.8 1502)"/>
<ellipse cx="2100.2" cy="1517" rx="8" ry="11" fill="#fff" stroke="#111" stroke-width="2.6" transform="rotate(10 2100.2 1517)"/>
<path d="M2101,1506 A8,11 0 0 1 2101,1528 A2.6,11 0 0 0 2101,1506 Z" fill="#111" transform="rotate(10 2100.2 1517)"/>
<ellipse cx="2143" cy="1537.3" rx="8" ry="11" fill="#fff" stroke="#111" stroke-width="2.6" transform="rotate(10 2143 1537.3)"/>
<path d="M2143.8,1526.3 A8,11 0 0 1 2143.8,1548.3 A2.6,11 0 0 0 2143.8,1526.3 Z" fill="#111" transform="rotate(10 2143 1537.3)"/>
<path d="M1969.8,1596.5 L2389.8,991.5 A29,29 0 0 0 2342.2,958.5 L1922.2,1563.5 A29,29 0 0 0 1969.8,1596.5 Z" fill="#fff"/>
<path d="M1969.8,1596.5 L2389.8,991.5 A29,29 0 0 0 2342.2,958.5 L1922.2,1563.5 A29,29 0 0 0 1969.8,1596.5 Z" fill="url(#DL)" stroke="#111" stroke-width="2.6" stroke-linejoin="round"/>
<ellipse cx="2327.4" cy="1021" rx="8.5" ry="12" fill="#fff" stroke="#111" stroke-width="2.6" transform="rotate(25 2327.4 1021)"/>
<path d="M2328.2,1009 A8.5,12 0 0 1 2328.2,1033 A2.7,12 0 0 0 2328.2,1009 Z" fill="#111" transform="rotate(25 2327.4 1021)"/>
<ellipse cx="2295.3" cy="1067.8" rx="8.5" ry="12" fill="#fff" stroke="#111" stroke-width="2.6" transform="rotate(25 2295.3 1067.8)"/>
<path d="M2296.2,1055.8 A8.5,12 0 0 1 2296.2,1079.8 A2.7,12 0 0 0 2296.2,1055.8 Z" fill="#111" transform="rotate(25 2295.3 1067.8)"/>
<ellipse cx="2263.3" cy="1114.6" rx="8.5" ry="12" fill="#fff" stroke="#111" stroke-width="2.6" transform="rotate(25 2263.3 1114.6)"/>
<path d="M2264.2,1102.6 A8.5,12 0 0 1 2264.2,1126.6 A2.7,12 0 0 0 2264.2,1102.6 Z" fill="#111" transform="rotate(25 2263.3 1114.6)"/>
<ellipse cx="2231.3" cy="1161.4" rx="8.5" ry="12" fill="#fff" stroke="#111" stroke-width="2.6" transform="rotate(25 2231.3 1161.4)"/>
<path d="M2232.2,1149.4 A8.5,12 0 0 1 2232.2,1173.4 A2.7,12 0 0 0 2232.2,1149.4 Z" fill="#111" transform="rotate(25 2231.3 1161.4)"/>
<ellipse cx="2199.3" cy="1205.8" rx="8.5" ry="12" fill="#fff" stroke="#111" stroke-width="2.6" transform="rotate(25 2199.3 1205.8)"/>
<path d="M2200.2,1193.8 A8.5,12 0 0 1 2200.2,1217.8 A2.7,12 0 0 0 2200.2,1193.8 Z" fill="#111" transform="rotate(25 2199.3 1205.8)"/>
<ellipse cx="2167.2" cy="1252.6" rx="8.5" ry="12" fill="#fff" stroke="#111" stroke-width="2.6" transform="rotate(25 2167.2 1252.6)"/>
<path d="M2168,1240.6 A8.5,12 0 0 1 2168,1264.6 A2.7,12 0 0 0 2168,1240.6 Z" fill="#111" transform="rotate(25 2167.2 1252.6)"/>
<ellipse cx="2135.2" cy="1299.4" rx="8.5" ry="12" fill="#fff" stroke="#111" stroke-width="2.6" transform="rotate(25 2135.2 1299.4)"/>
<path d="M2136,1287.4 A8.5,12 0 0 1 2136,1311.4 A2.7,12 0 0 0 2136,1287.4 Z" fill="#111" transform="rotate(25 2135.2 1299.4)"/>
<ellipse cx="2105.6" cy="1343.7" rx="8.5" ry="12" fill="#fff" stroke="#111" stroke-width="2.6" transform="rotate(25 2105.6 1343.7)"/>
<path d="M2106.4,1331.7 A8.5,12 0 0 1 2106.4,1355.7 A2.7,12 0 0 0 2106.4,1331.7 Z" fill="#111" transform="rotate(25 2105.6 1343.7)"/>
<ellipse cx="2044" cy="1437.4" rx="8.5" ry="12" fill="#fff" stroke="#111" stroke-width="2.6" transform="rotate(25 2044 1437.4)"/>
<path d="M2044.8,1425.4 A8.5,12 0 0 1 2044.8,1449.4 A2.7,12 0 0 0 2044.8,1425.4 Z" fill="#111" transform="rotate(25 2044 1437.4)"/>
<ellipse cx="1977.5" cy="1531" rx="8.5" ry="12" fill="#fff" stroke="#111" stroke-width="2.6" transform="rotate(25 1977.5 1531)"/>
<path d="M1978.3,1519 A8.5,12 0 0 1 1978.3,1543 A2.7,12 0 0 0 1978.3,1519 Z" fill="#111" transform="rotate(25 1977.5 1531)"/>
<circle cx="2075.8" cy="1390.8" r="17" fill="url(#V2)" stroke="#111" stroke-width="2.4"/>
<circle cx="2080" cy="1390" r="17" fill="#fff" stroke="#111" stroke-width="2.4"/>
<line x1="2068.9" y1="1399.3" x2="2091.1" y2="1380.7" stroke="#111" stroke-width="2.72" stroke-linecap="round"/>
<circle cx="1944.5" cy="1581" r="17" fill="url(#V2)" stroke="#111" stroke-width="2.4"/>
<circle cx="1948.8" cy="1580.2" r="17" fill="#fff" stroke="#111" stroke-width="2.4"/>
<line x1="1937.7" y1="1589.5" x2="1959.9" y2="1570.9" stroke="#111" stroke-width="2.72" stroke-linecap="round"/>
<circle cx="2366.2" cy="975.8" r="15" fill="url(#V2)" stroke="#111" stroke-width="2.4"/>
<circle cx="2370" cy="975" r="15" fill="#fff" stroke="#111" stroke-width="2.4"/>
<line x1="2360.2" y1="983.2" x2="2379.8" y2="966.8" stroke="#111" stroke-width="2.4" stroke-linecap="round"/>
<polyline points="1964,1466.6 2017,1481.8 2130.5,1471.7 2140,1478 2229,1522" fill="none" stroke="#111" stroke-width="15" stroke-linejoin="round" stroke-linecap="round"/>
<polyline points="1964,1466.6 2017,1481.8 2130.5,1471.7 2140,1478 2229,1522" fill="none" stroke="#fff" stroke-width="9.5" stroke-linejoin="round" stroke-linecap="round"/>
<ellipse cx="2229" cy="1522" rx="6.5" ry="7" fill="#fff" stroke="#111" stroke-width="2.4"/>
<ellipse cx="1964" cy="1466" rx="6" ry="7" fill="#fff" stroke="#111" stroke-width="2.4"/>
<rect x="1940" y="1606" width="28" height="16" rx="6" fill="url(#H)" stroke="#111" stroke-width="2.2"/>
<line x1="2384" y1="1005" x2="2379" y2="1352" stroke="#111" stroke-width="2.6" stroke-linecap="round"/>
<rect x="2347" y="1349" width="62" height="152" rx="27" fill="#fff" stroke="#111" stroke-width="2.8"/>
<rect x="2347" y="1360" width="14" height="130" fill="url(#X)"/>
<line x1="2361" y1="1355" x2="2361" y2="1495" stroke="#111" stroke-width="2" stroke-linecap="round"/>
<circle cx="2389" cy="1378" r="13" fill="#fff" stroke="#111" stroke-width="2.4"/>
<line x1="2379.4" y1="1383.5" x2="2398.6" y2="1372.5" stroke="#111" stroke-width="2.08" stroke-linecap="round"/>
<circle cx="2389" cy="1476.8" r="13" fill="#fff" stroke="#111" stroke-width="2.4"/>
<line x1="2379.4" y1="1482.3" x2="2398.6" y2="1471.3" stroke="#111" stroke-width="2.08" stroke-linecap="round"/>
<ellipse cx="2386.5" cy="1427.5" rx="6" ry="8" fill="#fff" stroke="#111" stroke-width="2.6"/>
<path d="M2387.1,1419.5 A6,8 0 0 1 2387.1,1435.5 A1.9,8 0 0 0 2387.1,1419.5 Z" fill="#111"/>
<g fill="#141414">
<text transform="translate(183.0 198) scale(0.9 1)" x="0" y="0" font-size="56" font-family="Liberation Sans, sans-serif" stroke="#141414" stroke-width="2.2" textLength="128.89" lengthAdjust="spacing">Židle</text>
<text transform="translate(329.0 198) scale(0.9 1)" x="0" y="0" font-size="56" font-family="Liberation Sans, sans-serif" stroke="#141414" stroke-width="2.2" textLength="45.56" lengthAdjust="spacing">č,</text>
<text transform="translate(395.0 198) scale(0.9 1)" x="0" y="0" font-size="56" font-family="Liberation Sans, sans-serif" stroke="#141414" stroke-width="2.2" textLength="82.22" lengthAdjust="spacing">22.</text>
<text transform="translate(843.0 185) scale(0.86 1)" x="0" y="0" font-size="37" font-family="Liberation Serif, serif" stroke="#141414" stroke-width="0.8" font-style="italic" textLength="121.86" lengthAdjust="spacing">Modely</text>
<text transform="translate(967.6 185) scale(0.86 1)" x="0" y="0" font-size="37" font-family="Liberation Serif, serif" stroke="#141414" stroke-width="0.8" font-style="italic" textLength="14.77" lengthAdjust="spacing">z</text>
<text transform="translate(994.6 185) scale(0.86 1)" x="0" y="0" font-size="37" font-family="Liberation Serif, serif" stroke="#141414" stroke-width="0.8" font-style="italic" textLength="24.49" lengthAdjust="spacing">č.</text>
<text transform="translate(1031.0 185) scale(0.86 1)" x="0" y="0" font-size="37" font-family="Liberation Serif, serif" stroke="#141414" stroke-width="0.8" font-style="italic" textLength="29.07" lengthAdjust="spacing">1,</text>
<text transform="translate(1375.0 199) scale(0.9 1)" x="0" y="0" font-size="56" font-family="Liberation Sans, sans-serif" stroke="#141414" stroke-width="0.6" textLength="272.44" lengthAdjust="spacing">Pásmovka</text>
<text transform="translate(1652.0 199) scale(0.9 1)" x="0" y="0" font-size="56" font-family="Liberation Sans, sans-serif" stroke="#141414" stroke-width="0.6" textLength="44.67" lengthAdjust="spacing">č.</text>
<text transform="translate(1719.0 199) scale(0.9 1)" x="0" y="0" font-size="56" font-family="Liberation Sans, sans-serif" stroke="#141414" stroke-width="0.6" textLength="78.89" lengthAdjust="spacing">24.</text>
<text transform="translate(2088.0 202) scale(0.9 1)" x="0" y="0" font-size="56" font-family="Liberation Sans, sans-serif" stroke="#141414" stroke-width="2.2" textLength="118.89" lengthAdjust="spacing">Pluh</text>
<text transform="translate(2224.8 202) scale(0.9 1)" x="0" y="0" font-size="56" font-family="Liberation Sans, sans-serif" stroke="#141414" stroke-width="2.2" textLength="43.78" lengthAdjust="spacing">č.</text>
<text transform="translate(2289.8 202) scale(0.9 1)" x="0" y="0" font-size="56" font-family="Liberation Sans, sans-serif" stroke="#141414" stroke-width="2.2" textLength="83.56" lengthAdjust="spacing">25.</text>
<text transform="translate(770.8 412) scale(0.9 1)" x="0" y="0" font-size="56" font-family="Liberation Sans, sans-serif" stroke="#141414" stroke-width="0.6" textLength="137.11" lengthAdjust="spacing">Sáně</text>
<text transform="translate(923.6 412) scale(0.9 1)" x="0" y="0" font-size="56" font-family="Liberation Sans, sans-serif" stroke="#141414" stroke-width="0.6" textLength="43.11" lengthAdjust="spacing">č.</text>
<text transform="translate(988.4 412) scale(0.9 1)" x="0" y="0" font-size="56" font-family="Liberation Sans, sans-serif" stroke="#141414" stroke-width="0.6" textLength="85.11" lengthAdjust="spacing">23.</text>
<text transform="translate(2137.0 859.5) scale(0.9 1)" x="0" y="0" font-size="56" font-family="Liberation Sans, sans-serif" stroke="#141414" stroke-width="0.6" textLength="153.33" lengthAdjust="spacing">Jeřáb</text>
<text transform="translate(2305.0 859.5) scale(0.9 1)" x="0" y="0" font-size="56" font-family="Liberation Sans, sans-serif" stroke="#141414" stroke-width="0.6" textLength="42.22" lengthAdjust="spacing">č.</text>
<text transform="translate(2368.0 859.5) scale(0.9 1)" x="0" y="0" font-size="56" font-family="Liberation Sans, sans-serif" stroke="#141414" stroke-width="0.6" textLength="74.44" lengthAdjust="spacing">17.</text>
<text transform="translate(131.0 1005) scale(0.9 1)" x="0" y="0" font-size="56" font-family="Liberation Sans, sans-serif" stroke="#141414" stroke-width="0.6" textLength="130.0" lengthAdjust="spacing">Koza</text>
<text transform="translate(279.0 1005) scale(0.9 1)" x="0" y="0" font-size="56" font-family="Liberation Sans, sans-serif" stroke="#141414" stroke-width="0.6" textLength="60.22" lengthAdjust="spacing">na</text>
<text transform="translate(366.2 1005) scale(0.9 1)" x="0" y="0" font-size="56" font-family="Liberation Sans, sans-serif" stroke="#141414" stroke-width="0.6" textLength="158.67" lengthAdjust="spacing">řezání</text>
<text transform="translate(540.0 1005) scale(0.9 1)" x="0" y="0" font-size="56" font-family="Liberation Sans, sans-serif" stroke="#141414" stroke-width="0.6" textLength="37.78" lengthAdjust="spacing">č.</text>
<text transform="translate(603.0 1005) scale(0.9 1)" x="0" y="0" font-size="56" font-family="Liberation Sans, sans-serif" stroke="#141414" stroke-width="0.6" textLength="83.33" lengthAdjust="spacing">20.</text>
<text transform="translate(1386.0 1118) scale(0.9 1)" x="0" y="0" font-size="56" font-family="Liberation Sans, sans-serif" stroke="#141414" stroke-width="0.6" textLength="172.0" lengthAdjust="spacing">Stojan</text>
<text transform="translate(1573.0 1118) scale(0.9 1)" x="0" y="0" font-size="56" font-family="Liberation Sans, sans-serif" stroke="#141414" stroke-width="0.6" textLength="44.44" lengthAdjust="spacing">č.</text>
<text transform="translate(1637.0 1118) scale(0.9 1)" x="0" y="0" font-size="56" font-family="Liberation Sans, sans-serif" stroke="#141414" stroke-width="0.6" textLength="74.44" lengthAdjust="spacing">13.</text>
</g></svg></body></html>
